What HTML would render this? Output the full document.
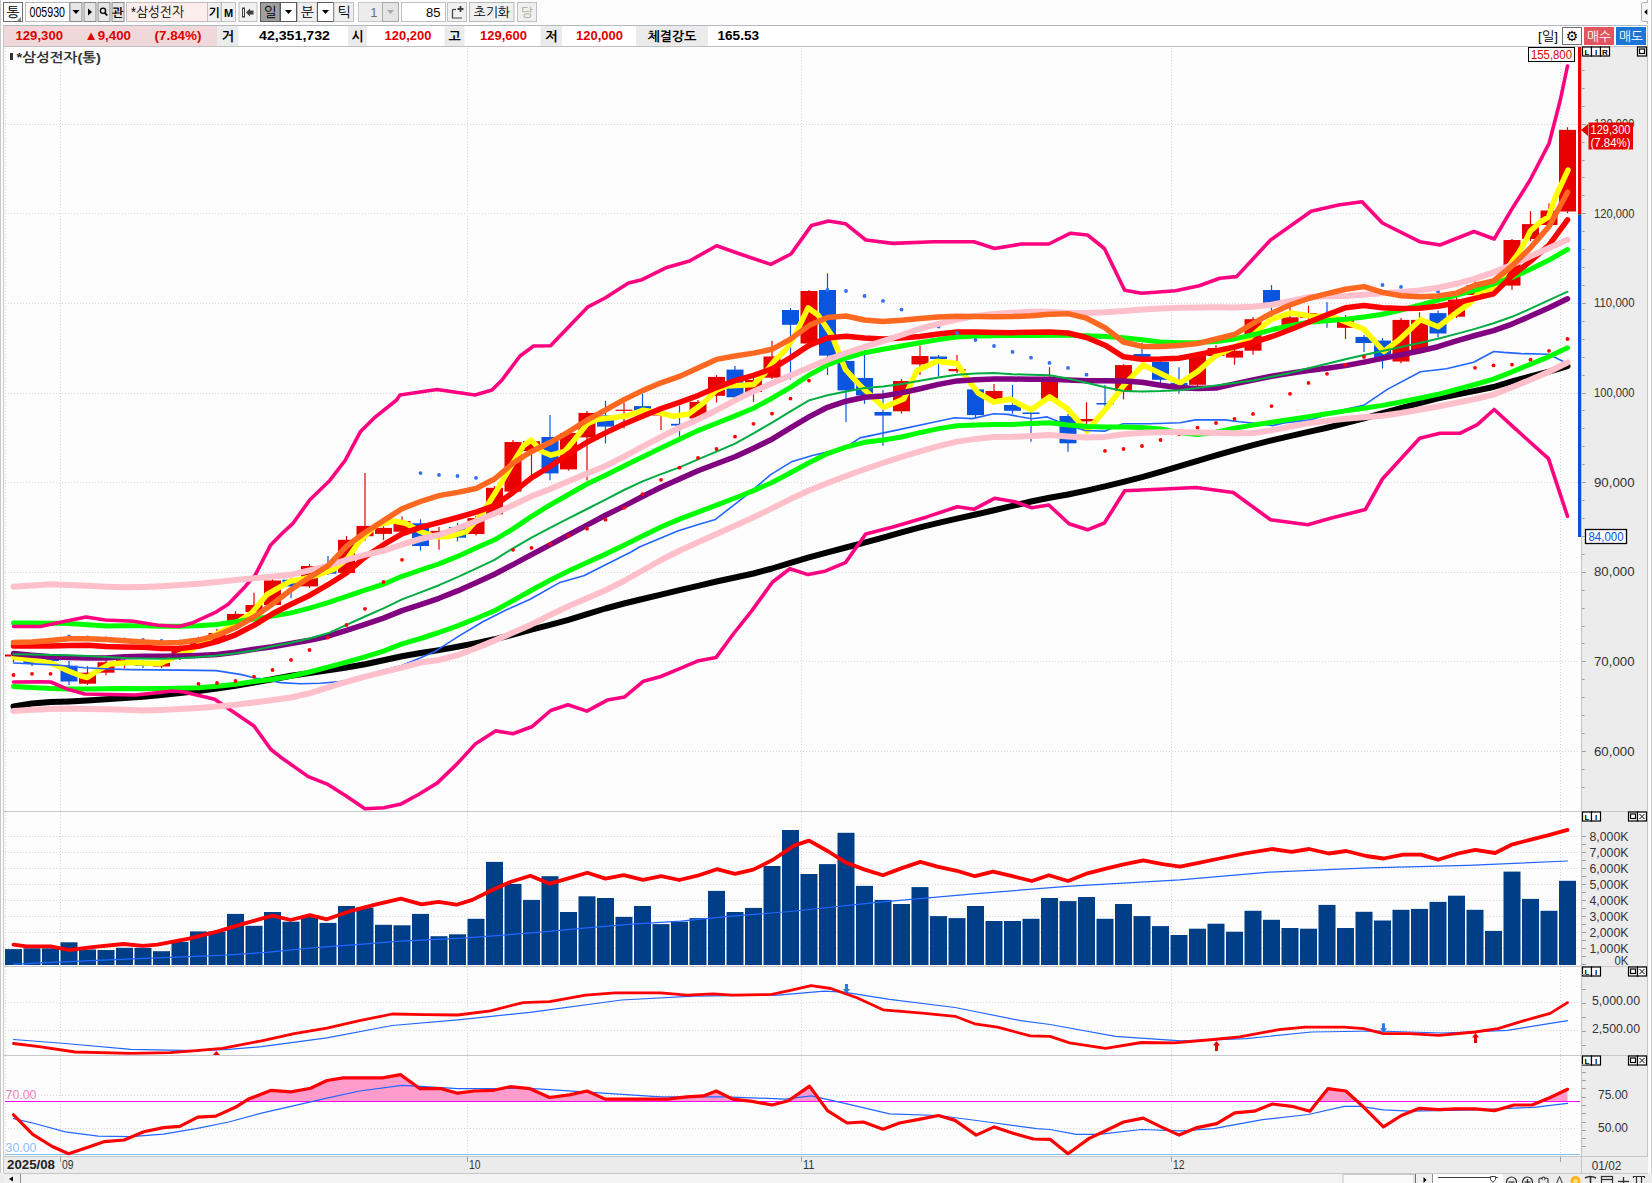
<!DOCTYPE html>
<html><head><meta charset="utf-8"><title>chart</title>
<style>html,body{margin:0;padding:0;background:#fcfcfc;overflow:hidden;width:1652px;height:1183px}svg{display:block}</style>
</head><body>
<svg width="1652" height="1183" viewBox="0 0 1652 1183" shape-rendering="auto"><rect x="0" y="0" width="1652" height="1183" fill="#fcfcfc" />
<rect x="0" y="0" width="1" height="1183" fill="#c8c8c8" />
<rect x="3" y="25" width="1" height="1149" fill="#c8c8c8" />
<rect x="3.5" y="2.5" width="19" height="19.0" fill="#ffffff" stroke="#6e6e6e" stroke-width="1" />
<text x="13.0" y="17" font-family="'Liberation Sans','NanumGothic','Noto Sans CJK KR',sans-serif" font-size="14" fill="#000" font-weight="normal" text-anchor="middle" >통</text>
<polygon points="21,17 21,21 17,21" fill="#808080"/>
<rect x="25.5" y="2.5" width="44" height="19" fill="#ffffff" stroke="#b8b8b8" stroke-width="1" />
<text x="29.5" y="17" font-family="'Liberation Sans','NanumGothic','Noto Sans CJK KR',sans-serif" font-size="14" fill="#000" font-weight="normal" text-anchor="start" textLength="35.5" lengthAdjust="spacingAndGlyphs" >005930</text>
<rect x="70.0" y="2.5" width="12.0" height="19.0" fill="#e6e6e6" stroke="#8a8a8a" stroke-width="1" />
<polygon points="72.5,10 79.5,10 76,14" fill="#000"/>
<rect x="84.0" y="2.5" width="12.0" height="19.0" fill="#e6e6e6" stroke="#8a8a8a" stroke-width="1" />
<polygon points="88,8.5 88,15.5 92,12" fill="#000"/>
<rect x="98.0" y="2.5" width="12.0" height="19.0" fill="#e6e6e6" stroke="#8a8a8a" stroke-width="1" />
<circle cx="103" cy="10.8" r="2.6" fill="none" stroke="#000" stroke-width="1.3"/><line x1="104.8" y1="12.8" x2="107.3" y2="15.5" stroke="#000" stroke-width="1.8"/>
<rect x="112.0" y="2.5" width="12.0" height="19.0" fill="#e6e6e6" stroke="#8a8a8a" stroke-width="1" />
<text x="118.0" y="17" font-family="'Liberation Sans','NanumGothic','Noto Sans CJK KR',sans-serif" font-size="12" fill="#000" font-weight="bold" text-anchor="middle" >관</text>
<rect x="126.5" y="2.5" width="81" height="19" fill="#fdeeee" stroke="#c0c0c0" stroke-width="1" />
<text x="131" y="17" font-family="'Liberation Sans','NanumGothic','Noto Sans CJK KR',sans-serif" font-size="14" fill="#000" font-weight="normal" text-anchor="start" textLength="53" lengthAdjust="spacingAndGlyphs" >*삼성전자</text>
<rect x="207.5" y="2.5" width="13.5" height="19.0" fill="#f0f0f0" stroke="#c0c0c0" stroke-width="1" />
<text x="214.25" y="17" font-family="'Liberation Sans','NanumGothic','Noto Sans CJK KR',sans-serif" font-size="12" fill="#000" font-weight="bold" text-anchor="middle" >기</text>
<rect x="221.5" y="2.5" width="14" height="19.0" fill="#f0f0f0" stroke="#c0c0c0" stroke-width="1" />
<text x="228.5" y="17" font-family="'Liberation Sans','NanumGothic','Noto Sans CJK KR',sans-serif" font-size="11" fill="#000" font-weight="bold" text-anchor="middle" >M</text>
<rect x="239.0" y="2.5" width="18.0" height="19.0" fill="#f0f0f0" stroke="#c0c0c0" stroke-width="1" />
<rect x="242.5" y="8" width="2" height="9" fill="none" stroke="#404040" stroke-width="1"/><polygon points="246,12.5 250,8.5 250,10.5 253.5,10.5 253.5,14.5 250,14.5 250,16.5" fill="#404040"/>
<rect x="260.5" y="2.5" width="19.5" height="19.0" fill="#a0a0a0" stroke="#5a5a5a" stroke-width="1" />
<text x="270.25" y="17" font-family="'Liberation Sans','NanumGothic','Noto Sans CJK KR',sans-serif" font-size="14" fill="#000" font-weight="normal" text-anchor="middle" >일</text>
<rect x="280.5" y="2.5" width="16" height="19.0" fill="#ffffff" stroke="#5a5a5a" stroke-width="1" />
<polygon points="285,10 292,10 288.5,14" fill="#000"/>
<rect x="297.5" y="2.5" width="19.5" height="19.0" fill="#f0f0f0" stroke="#c0c0c0" stroke-width="1" />
<text x="307.25" y="17" font-family="'Liberation Sans','NanumGothic','Noto Sans CJK KR',sans-serif" font-size="14" fill="#000" font-weight="normal" text-anchor="middle" >분</text>
<rect x="317.5" y="2.5" width="16" height="19.0" fill="#ffffff" stroke="#5a5a5a" stroke-width="1" />
<polygon points="322,10 329,10 325.5,14" fill="#000"/>
<rect x="334.0" y="2.5" width="19.5" height="19.0" fill="#f0f0f0" stroke="#c0c0c0" stroke-width="1" />
<text x="343.75" y="17" font-family="'Liberation Sans','NanumGothic','Noto Sans CJK KR',sans-serif" font-size="14" fill="#000" font-weight="normal" text-anchor="middle" >틱</text>
<rect x="358.5" y="2.5" width="24" height="19" fill="#ececec" stroke="#c8c8c8" stroke-width="1" />
<text x="377.5" y="17" font-family="'Liberation Sans','NanumGothic','Noto Sans CJK KR',sans-serif" font-size="13" fill="#707070" font-weight="normal" text-anchor="end" >1</text>
<rect x="382.5" y="2.5" width="16" height="19" fill="#e4e4e4" stroke="#a8a8a8" stroke-width="1" />
<polygon points="387,10 394,10 390.5,14" fill="#a8a8a8"/>
<rect x="401.5" y="2.5" width="44" height="19" fill="#ffffff" stroke="#c0c0c0" stroke-width="1" />
<text x="440.5" y="17" font-family="'Liberation Sans','NanumGothic','Noto Sans CJK KR',sans-serif" font-size="13" fill="#000" font-weight="normal" text-anchor="end" >85</text>
<rect x="447.5" y="2.5" width="19" height="19.0" fill="#f0f0f0" stroke="#c0c0c0" stroke-width="1" />
<path d="M452.5,9.5 V18 H462" fill="none" stroke="#404040" stroke-width="1.2"/><path d="M452.5,9.5 H456" fill="none" stroke="#404040" stroke-width="1.2"/><path d="M460.5,6 v6 M457.5,9 h6" stroke="#404040" stroke-width="1.8"/>
<rect x="469.5" y="2.5" width="44.5" height="19.0" fill="#f0f0f0" stroke="#b8b8b8" stroke-width="1" />
<text x="491.75" y="17" font-family="'Liberation Sans','NanumGothic','Noto Sans CJK KR',sans-serif" font-size="13" fill="#000" font-weight="normal" text-anchor="middle" >초기화</text>
<rect x="517.5" y="2.5" width="19" height="19.0" fill="#f0f0f0" stroke="#c0c0c0" stroke-width="1" />
<text x="527.0" y="17" font-family="'Liberation Sans','NanumGothic','Noto Sans CJK KR',sans-serif" font-size="13" fill="#b0a898" font-weight="normal" text-anchor="middle" >당</text>
<path d="M1647.5,0 V2.5 H1643.5 Q1641.5,2.5 1641.5,4.5 V19.5 Q1641.5,21.5 1643.5,21.5 H1647.5 V24" fill="#f2f4f6" stroke="#aab0b8" stroke-width="1"/>
<polygon points="1647.3,9 1647.3,15 1644.2,12" fill="#000"/>
<rect x="4" y="25" width="1644" height="22" fill="#ffffff" />
<line x1="4" y1="25.5" x2="1648" y2="25.5" stroke="#b4b8c0" stroke-width="1"/>
<line x1="4" y1="46.5" x2="1648" y2="46.5" stroke="#c0c0c0" stroke-width="1"/>
<rect x="4" y="26" width="213" height="20" fill="#f0d8da" />
<text x="15.5" y="40" font-family="'Liberation Sans','NanumGothic','Noto Sans CJK KR',sans-serif" font-size="13" fill="#e00000" font-weight="bold" text-anchor="start" textLength="47.5" lengthAdjust="spacingAndGlyphs" >129,300</text>
<text x="84.5" y="40" font-family="'Liberation Sans','NanumGothic','Noto Sans CJK KR',sans-serif" font-size="13" fill="#e00000" font-weight="bold" text-anchor="start" textLength="46.5" lengthAdjust="spacingAndGlyphs" >▲9,400</text>
<text x="154.5" y="40" font-family="'Liberation Sans','NanumGothic','Noto Sans CJK KR',sans-serif" font-size="13" fill="#e00000" font-weight="bold" text-anchor="start" textLength="47" lengthAdjust="spacingAndGlyphs" >(7.84%)</text>
<rect x="217" y="26" width="21.5" height="20" fill="#ebebeb" />
<text x="227.75" y="40.5" font-family="'Liberation Sans','NanumGothic','Noto Sans CJK KR',sans-serif" font-size="13" fill="#000" font-weight="bold" text-anchor="middle" >거</text>
<text x="330" y="40" font-family="'Liberation Sans','NanumGothic','Noto Sans CJK KR',sans-serif" font-size="13" fill="#000" font-weight="bold" text-anchor="end" textLength="71" lengthAdjust="spacingAndGlyphs" >42,351,732</text>
<rect x="348" y="26" width="19" height="20" fill="#ebebeb" />
<text x="357.5" y="40.5" font-family="'Liberation Sans','NanumGothic','Noto Sans CJK KR',sans-serif" font-size="13" fill="#000" font-weight="bold" text-anchor="middle" >시</text>
<text x="431.5" y="40" font-family="'Liberation Sans','NanumGothic','Noto Sans CJK KR',sans-serif" font-size="13" fill="#e00000" font-weight="bold" text-anchor="end" textLength="47" lengthAdjust="spacingAndGlyphs" >120,200</text>
<rect x="444.5" y="26" width="20.0" height="20" fill="#ebebeb" />
<text x="454.5" y="40.5" font-family="'Liberation Sans','NanumGothic','Noto Sans CJK KR',sans-serif" font-size="13" fill="#000" font-weight="bold" text-anchor="middle" >고</text>
<text x="527" y="40" font-family="'Liberation Sans','NanumGothic','Noto Sans CJK KR',sans-serif" font-size="13" fill="#e00000" font-weight="bold" text-anchor="end" textLength="47" lengthAdjust="spacingAndGlyphs" >129,600</text>
<rect x="540.5" y="26" width="21.5" height="20" fill="#ebebeb" />
<text x="551.25" y="40.5" font-family="'Liberation Sans','NanumGothic','Noto Sans CJK KR',sans-serif" font-size="13" fill="#000" font-weight="bold" text-anchor="middle" >저</text>
<text x="623" y="40" font-family="'Liberation Sans','NanumGothic','Noto Sans CJK KR',sans-serif" font-size="13" fill="#e00000" font-weight="bold" text-anchor="end" textLength="47" lengthAdjust="spacingAndGlyphs" >120,000</text>
<rect x="636" y="26" width="72" height="20" fill="#ebebeb" />
<text x="672.0" y="40.5" font-family="'Liberation Sans','NanumGothic','Noto Sans CJK KR',sans-serif" font-size="13" fill="#000" font-weight="bold" text-anchor="middle" >체결강도</text>
<text x="759" y="40" font-family="'Liberation Sans','NanumGothic','Noto Sans CJK KR',sans-serif" font-size="13" fill="#000" font-weight="bold" text-anchor="end" textLength="41.5" lengthAdjust="spacingAndGlyphs" >165.53</text>
<text x="1548" y="41" font-family="'Liberation Sans','NanumGothic','Noto Sans CJK KR',sans-serif" font-size="13" fill="#000" font-weight="normal" text-anchor="middle" textLength="20" lengthAdjust="spacingAndGlyphs" >[일]</text>
<rect x="1562.5" y="27.5" width="19" height="17" fill="#ffffff" stroke="#707070" stroke-width="1" />
<text x="1572" y="40.5" font-family="'DejaVu Sans',sans-serif" font-size="14" fill="#000" font-weight="normal" text-anchor="middle" >⚙</text>
<rect x="1584" y="27" width="30" height="18" fill="#e25560" />
<text x="1599" y="41" font-family="'Liberation Sans','NanumGothic','Noto Sans CJK KR',sans-serif" font-size="13" fill="#ffffff" font-weight="normal" text-anchor="middle" textLength="24" lengthAdjust="spacingAndGlyphs" >매수</text>
<rect x="1616" y="27" width="30" height="18" fill="#1c74d4" />
<text x="1631" y="41" font-family="'Liberation Sans','NanumGothic','Noto Sans CJK KR',sans-serif" font-size="13" fill="#ffffff" font-weight="normal" text-anchor="middle" textLength="24" lengthAdjust="spacingAndGlyphs" >매도</text>
<rect x="4" y="47" width="1577" height="1109" fill="#fdfdfd" />
<rect x="1581" y="47" width="67" height="1110" fill="#ececec" />
<line x1="1581.5" y1="47" x2="1581.5" y2="1157" stroke="#c4c4c4" stroke-width="1"/>
<line x1="1647.5" y1="25" x2="1647.5" y2="1174" stroke="#c4c4c4" stroke-width="1"/>
<rect x="1648" y="25" width="4" height="1150" fill="#fbfbfb" />
<line x1="1651.5" y1="0" x2="1651.5" y2="1183" stroke="#d0d0d0" stroke-width="1"/>
<line x1="4" y1="811.5" x2="1648" y2="811.5" stroke="#c8c8c8" stroke-width="1"/>
<line x1="4" y1="966.5" x2="1648" y2="966.5" stroke="#c8c8c8" stroke-width="1"/>
<line x1="4" y1="1055.5" x2="1648" y2="1055.5" stroke="#c8c8c8" stroke-width="1"/>
<line x1="4" y1="1156.5" x2="1648" y2="1156.5" stroke="#c8c8c8" stroke-width="1"/>
<line x1="5" y1="751.5" x2="1580" y2="751.5" stroke="#d8d8d8" stroke-width="1" stroke-dasharray="1,2"/>
<line x1="5" y1="661.5" x2="1580" y2="661.5" stroke="#d8d8d8" stroke-width="1" stroke-dasharray="1,2"/>
<line x1="5" y1="572.5" x2="1580" y2="572.5" stroke="#d8d8d8" stroke-width="1" stroke-dasharray="1,2"/>
<line x1="5" y1="482.5" x2="1580" y2="482.5" stroke="#d8d8d8" stroke-width="1" stroke-dasharray="1,2"/>
<line x1="5" y1="393.5" x2="1580" y2="393.5" stroke="#d8d8d8" stroke-width="1" stroke-dasharray="1,2"/>
<line x1="5" y1="303.5" x2="1580" y2="303.5" stroke="#d8d8d8" stroke-width="1" stroke-dasharray="1,2"/>
<line x1="5" y1="213.5" x2="1580" y2="213.5" stroke="#d8d8d8" stroke-width="1" stroke-dasharray="1,2"/>
<line x1="5" y1="124.5" x2="1580" y2="124.5" stroke="#d8d8d8" stroke-width="1" stroke-dasharray="1,2"/>
<line x1="5.5" y1="48" x2="5.5" y2="811" stroke="#d8d8d8" stroke-width="1" stroke-dasharray="1,2"/>
<line x1="5.5" y1="812" x2="5.5" y2="966" stroke="#d8d8d8" stroke-width="1" stroke-dasharray="1,2"/>
<line x1="5.5" y1="967" x2="5.5" y2="1055" stroke="#d8d8d8" stroke-width="1" stroke-dasharray="1,2"/>
<line x1="5.5" y1="1056" x2="5.5" y2="1156" stroke="#d8d8d8" stroke-width="1" stroke-dasharray="1,2"/>
<line x1="60.5" y1="48" x2="60.5" y2="811" stroke="#d8d8d8" stroke-width="1" stroke-dasharray="1,2"/>
<line x1="60.5" y1="812" x2="60.5" y2="966" stroke="#d8d8d8" stroke-width="1" stroke-dasharray="1,2"/>
<line x1="60.5" y1="967" x2="60.5" y2="1055" stroke="#d8d8d8" stroke-width="1" stroke-dasharray="1,2"/>
<line x1="60.5" y1="1056" x2="60.5" y2="1156" stroke="#d8d8d8" stroke-width="1" stroke-dasharray="1,2"/>
<line x1="467.5" y1="48" x2="467.5" y2="811" stroke="#d8d8d8" stroke-width="1" stroke-dasharray="1,2"/>
<line x1="467.5" y1="812" x2="467.5" y2="966" stroke="#d8d8d8" stroke-width="1" stroke-dasharray="1,2"/>
<line x1="467.5" y1="967" x2="467.5" y2="1055" stroke="#d8d8d8" stroke-width="1" stroke-dasharray="1,2"/>
<line x1="467.5" y1="1056" x2="467.5" y2="1156" stroke="#d8d8d8" stroke-width="1" stroke-dasharray="1,2"/>
<line x1="801.5" y1="48" x2="801.5" y2="811" stroke="#d8d8d8" stroke-width="1" stroke-dasharray="1,2"/>
<line x1="801.5" y1="812" x2="801.5" y2="966" stroke="#d8d8d8" stroke-width="1" stroke-dasharray="1,2"/>
<line x1="801.5" y1="967" x2="801.5" y2="1055" stroke="#d8d8d8" stroke-width="1" stroke-dasharray="1,2"/>
<line x1="801.5" y1="1056" x2="801.5" y2="1156" stroke="#d8d8d8" stroke-width="1" stroke-dasharray="1,2"/>
<line x1="1171.5" y1="48" x2="1171.5" y2="811" stroke="#d8d8d8" stroke-width="1" stroke-dasharray="1,2"/>
<line x1="1171.5" y1="812" x2="1171.5" y2="966" stroke="#d8d8d8" stroke-width="1" stroke-dasharray="1,2"/>
<line x1="1171.5" y1="967" x2="1171.5" y2="1055" stroke="#d8d8d8" stroke-width="1" stroke-dasharray="1,2"/>
<line x1="1171.5" y1="1056" x2="1171.5" y2="1156" stroke="#d8d8d8" stroke-width="1" stroke-dasharray="1,2"/>
<line x1="1560.5" y1="48" x2="1560.5" y2="811" stroke="#d8d8d8" stroke-width="1" stroke-dasharray="1,2"/>
<line x1="1560.5" y1="812" x2="1560.5" y2="966" stroke="#d8d8d8" stroke-width="1" stroke-dasharray="1,2"/>
<line x1="1560.5" y1="967" x2="1560.5" y2="1055" stroke="#d8d8d8" stroke-width="1" stroke-dasharray="1,2"/>
<line x1="1560.5" y1="1056" x2="1560.5" y2="1156" stroke="#d8d8d8" stroke-width="1" stroke-dasharray="1,2"/>
<line x1="5" y1="948.5" x2="1580" y2="948.5" stroke="#d8d8d8" stroke-width="1" stroke-dasharray="1,2"/>
<line x1="5" y1="932.5" x2="1580" y2="932.5" stroke="#d8d8d8" stroke-width="1" stroke-dasharray="1,2"/>
<line x1="5" y1="916.5" x2="1580" y2="916.5" stroke="#d8d8d8" stroke-width="1" stroke-dasharray="1,2"/>
<line x1="5" y1="900.5" x2="1580" y2="900.5" stroke="#d8d8d8" stroke-width="1" stroke-dasharray="1,2"/>
<line x1="5" y1="884.5" x2="1580" y2="884.5" stroke="#d8d8d8" stroke-width="1" stroke-dasharray="1,2"/>
<line x1="5" y1="868.5" x2="1580" y2="868.5" stroke="#d8d8d8" stroke-width="1" stroke-dasharray="1,2"/>
<line x1="5" y1="852.5" x2="1580" y2="852.5" stroke="#d8d8d8" stroke-width="1" stroke-dasharray="1,2"/>
<line x1="5" y1="836.5" x2="1580" y2="836.5" stroke="#d8d8d8" stroke-width="1" stroke-dasharray="1,2"/>
<line x1="5" y1="1002.5" x2="1580" y2="1002.5" stroke="#d8d8d8" stroke-width="1" stroke-dasharray="1,2"/>
<line x1="5" y1="1030.5" x2="1580" y2="1030.5" stroke="#d8d8d8" stroke-width="1" stroke-dasharray="1,2"/>
<line x1="5" y1="1095.5" x2="1580" y2="1095.5" stroke="#d8d8d8" stroke-width="1" stroke-dasharray="1,2"/>
<line x1="5" y1="1128.5" x2="1580" y2="1128.5" stroke="#d8d8d8" stroke-width="1" stroke-dasharray="1,2"/>
<g>
<line x1="13.5" y1="654.5" x2="13.5" y2="662.0" stroke="#e80000" stroke-width="1.2"/>
<rect x="5.0" y="654.5" width="17" height="2.0" fill="#e80000" />
<line x1="32.0" y1="658.0" x2="32.0" y2="666.0" stroke="#0a55e0" stroke-width="1.2"/>
<rect x="23.5" y="659.0" width="17" height="4.0" fill="#0a55e0" />
<line x1="50.5" y1="656.0" x2="50.5" y2="662.0" stroke="#0a55e0" stroke-width="1.2"/>
<rect x="42.0" y="658.0" width="17" height="3.0" fill="#0a55e0" />
<line x1="69.0" y1="661.0" x2="69.0" y2="685.0" stroke="#0a55e0" stroke-width="1.2"/>
<rect x="60.5" y="665.7" width="17" height="15.8" fill="#0a55e0" />
<line x1="87.5" y1="666.2" x2="87.5" y2="685.0" stroke="#e80000" stroke-width="1.2"/>
<rect x="79.0" y="672.7" width="17" height="11.0" fill="#e80000" />
<line x1="106.0" y1="660.0" x2="106.0" y2="675.3" stroke="#e80000" stroke-width="1.2"/>
<rect x="97.5" y="662.2" width="17" height="10.5" fill="#e80000" />
<line x1="124.5" y1="658.0" x2="124.5" y2="668.3" stroke="#e80000" stroke-width="1.2"/>
<rect x="116.0" y="660.0" width="17" height="4.0" fill="#e80000" />
<line x1="143.0" y1="660.0" x2="143.0" y2="668.0" stroke="#0a55e0" stroke-width="1.2"/>
<rect x="134.5" y="662.0" width="17" height="3.7" fill="#0a55e0" />
<line x1="161.5" y1="660.0" x2="161.5" y2="668.3" stroke="#e80000" stroke-width="1.2"/>
<rect x="153.0" y="663.0" width="17" height="3.5" fill="#e80000" />
<line x1="180.0" y1="641.5" x2="180.0" y2="660.0" stroke="#e80000" stroke-width="1.2"/>
<rect x="171.5" y="650.0" width="17" height="6.0" fill="#e80000" />
<line x1="198.5" y1="636.7" x2="198.5" y2="649.0" stroke="#e80000" stroke-width="1.2"/>
<rect x="190.0" y="640.0" width="17" height="7.0" fill="#e80000" />
<line x1="217.0" y1="628.8" x2="217.0" y2="641.0" stroke="#e80000" stroke-width="1.2"/>
<rect x="208.5" y="633.0" width="17" height="7.0" fill="#e80000" />
<line x1="235.5" y1="611.2" x2="235.5" y2="623.0" stroke="#e80000" stroke-width="1.2"/>
<rect x="227.0" y="613.9" width="17" height="7.9" fill="#e80000" />
<line x1="254.0" y1="592.8" x2="254.0" y2="613.0" stroke="#e80000" stroke-width="1.2"/>
<rect x="245.5" y="605.0" width="17" height="7.0" fill="#e80000" />
<line x1="272.5" y1="578.0" x2="272.5" y2="606.0" stroke="#e80000" stroke-width="1.2"/>
<rect x="264.0" y="580.5" width="17" height="24.5" fill="#e80000" />
<line x1="291.0" y1="578.0" x2="291.0" y2="598.3" stroke="#0a55e0" stroke-width="1.2"/>
<rect x="282.5" y="579.7" width="17" height="6.7" fill="#0a55e0" />
<line x1="309.5" y1="564.0" x2="309.5" y2="588.0" stroke="#e80000" stroke-width="1.2"/>
<rect x="301.0" y="566.0" width="17" height="20.4" fill="#e80000" />
<line x1="328.0" y1="556.0" x2="328.0" y2="575.0" stroke="#0a55e0" stroke-width="1.2"/>
<rect x="319.5" y="565.3" width="17" height="8.4" fill="#0a55e0" />
<line x1="346.5" y1="535.9" x2="346.5" y2="574.0" stroke="#e80000" stroke-width="1.2"/>
<rect x="338.0" y="539.8" width="17" height="33.1" fill="#e80000" />
<line x1="365.0" y1="473.1" x2="365.0" y2="540.7" stroke="#e80000" stroke-width="1.2"/>
<rect x="356.5" y="525.9" width="17" height="10.3" fill="#e80000" />
<line x1="383.5" y1="526.0" x2="383.5" y2="540.0" stroke="#e80000" stroke-width="1.2"/>
<rect x="375.0" y="527.9" width="17" height="6.0" fill="#e80000" />
<line x1="402.0" y1="516.2" x2="402.0" y2="533.0" stroke="#e80000" stroke-width="1.2"/>
<rect x="393.5" y="521.0" width="17" height="10.7" fill="#e80000" />
<line x1="420.5" y1="519.3" x2="420.5" y2="550.6" stroke="#0a55e0" stroke-width="1.2"/>
<rect x="412.0" y="523.3" width="17" height="22.7" fill="#0a55e0" />
<line x1="439.0" y1="527.0" x2="439.0" y2="549.8" stroke="#e80000" stroke-width="1.2"/>
<rect x="430.5" y="530.9" width="17" height="2.3" fill="#e80000" />
<line x1="457.5" y1="522.9" x2="457.5" y2="541.5" stroke="#0a55e0" stroke-width="1.2"/>
<rect x="449.0" y="527.0" width="17" height="10.7" fill="#0a55e0" />
<line x1="476.0" y1="516.0" x2="476.0" y2="535.4" stroke="#e80000" stroke-width="1.2"/>
<rect x="467.5" y="518.0" width="17" height="16.0" fill="#e80000" />
<line x1="494.5" y1="486.0" x2="494.5" y2="516.0" stroke="#e80000" stroke-width="1.2"/>
<rect x="486.0" y="487.8" width="17" height="26.5" fill="#e80000" />
<line x1="513.0" y1="440.0" x2="513.0" y2="493.0" stroke="#e80000" stroke-width="1.2"/>
<rect x="504.5" y="442.0" width="17" height="49.6" fill="#e80000" />
<line x1="531.5" y1="439.0" x2="531.5" y2="480.2" stroke="#e80000" stroke-width="1.2"/>
<rect x="523.0" y="441.2" width="17" height="9.8" fill="#e80000" />
<line x1="550.0" y1="415.1" x2="550.0" y2="480.2" stroke="#0a55e0" stroke-width="1.2"/>
<rect x="541.5" y="437.0" width="17" height="36.4" fill="#0a55e0" />
<line x1="568.5" y1="431.0" x2="568.5" y2="470.7" stroke="#e80000" stroke-width="1.2"/>
<rect x="560.0" y="433.0" width="17" height="36.4" fill="#e80000" />
<line x1="587.0" y1="411.0" x2="587.0" y2="480.6" stroke="#e80000" stroke-width="1.2"/>
<rect x="578.5" y="412.9" width="17" height="24.5" fill="#e80000" />
<line x1="605.5" y1="400.8" x2="605.5" y2="443.5" stroke="#0a55e0" stroke-width="1.2"/>
<rect x="597.0" y="415.5" width="17" height="11.1" fill="#0a55e0" />
<line x1="624.0" y1="402.6" x2="624.0" y2="428.4" stroke="#e80000" stroke-width="1.2"/>
<rect x="615.5" y="409.7" width="17" height="1.2" fill="#e80000" />
<line x1="642.5" y1="393.9" x2="642.5" y2="413.0" stroke="#0a55e0" stroke-width="1.2"/>
<rect x="634.0" y="406.1" width="17" height="5.6" fill="#0a55e0" />
<line x1="661.0" y1="411.0" x2="661.0" y2="429.9" stroke="#e80000" stroke-width="1.2"/>
<rect x="652.5" y="413.5" width="17" height="2.0" fill="#e80000" />
<line x1="679.5" y1="405.7" x2="679.5" y2="436.7" stroke="#0a55e0" stroke-width="1.2"/>
<rect x="671.0" y="423.8" width="17" height="1.8" fill="#0a55e0" />
<line x1="698.0" y1="400.0" x2="698.0" y2="420.0" stroke="#e80000" stroke-width="1.2"/>
<rect x="689.5" y="401.9" width="17" height="16.6" fill="#e80000" />
<line x1="716.5" y1="375.1" x2="716.5" y2="402.6" stroke="#e80000" stroke-width="1.2"/>
<rect x="708.0" y="376.9" width="17" height="18.9" fill="#e80000" />
<line x1="735.0" y1="366.0" x2="735.0" y2="399.0" stroke="#0a55e0" stroke-width="1.2"/>
<rect x="726.5" y="369.6" width="17" height="27.7" fill="#0a55e0" />
<line x1="753.5" y1="378.0" x2="753.5" y2="401.9" stroke="#e80000" stroke-width="1.2"/>
<rect x="745.0" y="380.0" width="17" height="12.0" fill="#e80000" />
<line x1="772.0" y1="340.9" x2="772.0" y2="379.0" stroke="#e80000" stroke-width="1.2"/>
<rect x="763.5" y="356.5" width="17" height="21.2" fill="#e80000" />
<line x1="790.5" y1="308.0" x2="790.5" y2="379.6" stroke="#0a55e0" stroke-width="1.2"/>
<rect x="782.0" y="310.0" width="17" height="14.8" fill="#0a55e0" />
<line x1="809.0" y1="290.0" x2="809.0" y2="345.0" stroke="#e80000" stroke-width="1.2"/>
<rect x="800.5" y="291.0" width="17" height="52.5" fill="#e80000" />
<line x1="827.5" y1="273.3" x2="827.5" y2="375.0" stroke="#0a55e0" stroke-width="1.2"/>
<rect x="819.0" y="290.0" width="17" height="65.6" fill="#0a55e0" />
<line x1="846.0" y1="359.0" x2="846.0" y2="422.0" stroke="#0a55e0" stroke-width="1.2"/>
<rect x="837.5" y="361.0" width="17" height="29.4" fill="#0a55e0" />
<line x1="864.5" y1="350.5" x2="864.5" y2="403.8" stroke="#0a55e0" stroke-width="1.2"/>
<rect x="856.0" y="378.0" width="17" height="17.4" fill="#0a55e0" />
<line x1="883.0" y1="390.0" x2="883.0" y2="445.8" stroke="#0a55e0" stroke-width="1.2"/>
<rect x="874.5" y="412.0" width="17" height="3.6" fill="#0a55e0" />
<line x1="901.5" y1="379.0" x2="901.5" y2="413.6" stroke="#e80000" stroke-width="1.2"/>
<rect x="893.0" y="381.0" width="17" height="30.3" fill="#e80000" />
<line x1="920.0" y1="345.5" x2="920.0" y2="375.0" stroke="#e80000" stroke-width="1.2"/>
<rect x="911.5" y="356.0" width="17" height="8.4" fill="#e80000" />
<line x1="938.5" y1="355.0" x2="938.5" y2="376.5" stroke="#0a55e0" stroke-width="1.2"/>
<rect x="930.0" y="356.5" width="17" height="2.5" fill="#0a55e0" />
<line x1="957.0" y1="355.0" x2="957.0" y2="373.0" stroke="#e80000" stroke-width="1.2"/>
<rect x="948.5" y="369.0" width="17" height="2.2" fill="#e80000" />
<line x1="975.5" y1="387.0" x2="975.5" y2="417.4" stroke="#0a55e0" stroke-width="1.2"/>
<rect x="967.0" y="389.4" width="17" height="25.7" fill="#0a55e0" />
<line x1="994.0" y1="384.1" x2="994.0" y2="401.0" stroke="#e80000" stroke-width="1.2"/>
<rect x="985.5" y="391.0" width="17" height="8.2" fill="#e80000" />
<line x1="1012.5" y1="385.0" x2="1012.5" y2="413.8" stroke="#0a55e0" stroke-width="1.2"/>
<rect x="1004.0" y="405.0" width="17" height="5.8" fill="#0a55e0" />
<line x1="1031.0" y1="412.3" x2="1031.0" y2="441.8" stroke="#0a55e0" stroke-width="1.2"/>
<rect x="1022.5" y="412.5" width="17" height="1.5" fill="#0a55e0" />
<line x1="1049.5" y1="367.2" x2="1049.5" y2="400.0" stroke="#e80000" stroke-width="1.2"/>
<rect x="1041.0" y="380.5" width="17" height="18.2" fill="#e80000" />
<line x1="1068.0" y1="414.0" x2="1068.0" y2="451.7" stroke="#0a55e0" stroke-width="1.2"/>
<rect x="1059.5" y="416.0" width="17" height="27.3" fill="#0a55e0" />
<line x1="1086.5" y1="402.2" x2="1086.5" y2="424.4" stroke="#e80000" stroke-width="1.2"/>
<rect x="1078.0" y="419.0" width="17" height="2.4" fill="#e80000" />
<line x1="1105.0" y1="385.0" x2="1105.0" y2="406.3" stroke="#0a55e0" stroke-width="1.2"/>
<rect x="1096.5" y="403.0" width="17" height="1.5" fill="#0a55e0" />
<line x1="1123.5" y1="364.2" x2="1123.5" y2="399.4" stroke="#e80000" stroke-width="1.2"/>
<rect x="1115.0" y="365.1" width="17" height="25.7" fill="#e80000" />
<line x1="1142.0" y1="342.7" x2="1142.0" y2="359.0" stroke="#0a55e0" stroke-width="1.2"/>
<rect x="1133.5" y="354.0" width="17" height="3.0" fill="#0a55e0" />
<line x1="1160.5" y1="360.0" x2="1160.5" y2="388.0" stroke="#0a55e0" stroke-width="1.2"/>
<rect x="1152.0" y="362.0" width="17" height="17.8" fill="#0a55e0" />
<line x1="1179.0" y1="367.2" x2="1179.0" y2="393.8" stroke="#0a55e0" stroke-width="1.2"/>
<rect x="1170.5" y="382.8" width="17" height="3.0" fill="#0a55e0" />
<line x1="1197.5" y1="354.0" x2="1197.5" y2="386.0" stroke="#e80000" stroke-width="1.2"/>
<rect x="1189.0" y="355.6" width="17" height="29.2" fill="#e80000" />
<line x1="1216.0" y1="344.9" x2="1216.0" y2="358.0" stroke="#e80000" stroke-width="1.2"/>
<rect x="1207.5" y="348.0" width="17" height="8.0" fill="#e80000" />
<line x1="1234.5" y1="346.0" x2="1234.5" y2="364.7" stroke="#e80000" stroke-width="1.2"/>
<rect x="1226.0" y="350.7" width="17" height="6.9" fill="#e80000" />
<line x1="1253.0" y1="317.0" x2="1253.0" y2="354.7" stroke="#e80000" stroke-width="1.2"/>
<rect x="1244.5" y="319.2" width="17" height="31.5" fill="#e80000" />
<line x1="1271.5" y1="285.1" x2="1271.5" y2="321.7" stroke="#0a55e0" stroke-width="1.2"/>
<rect x="1263.0" y="290.0" width="17" height="15.8" fill="#0a55e0" />
<line x1="1290.0" y1="298.0" x2="1290.0" y2="326.0" stroke="#e80000" stroke-width="1.2"/>
<rect x="1281.5" y="317.3" width="17" height="8.2" fill="#e80000" />
<line x1="1308.5" y1="305.8" x2="1308.5" y2="324.7" stroke="#e80000" stroke-width="1.2"/>
<rect x="1300.0" y="313.0" width="17" height="5.0" fill="#e80000" />
<line x1="1327.0" y1="302.0" x2="1327.0" y2="327.8" stroke="#0a55e0" stroke-width="1.2"/>
<rect x="1318.5" y="315.0" width="17" height="7.0" fill="#0a55e0" />
<line x1="1345.5" y1="315.0" x2="1345.5" y2="339.1" stroke="#e80000" stroke-width="1.2"/>
<rect x="1337.0" y="317.2" width="17" height="10.6" fill="#e80000" />
<line x1="1364.0" y1="335.0" x2="1364.0" y2="352.0" stroke="#0a55e0" stroke-width="1.2"/>
<rect x="1355.5" y="336.9" width="17" height="6.1" fill="#0a55e0" />
<line x1="1382.5" y1="338.0" x2="1382.5" y2="368.6" stroke="#0a55e0" stroke-width="1.2"/>
<rect x="1374.0" y="340.6" width="17" height="18.2" fill="#0a55e0" />
<line x1="1401.0" y1="318.0" x2="1401.0" y2="363.3" stroke="#e80000" stroke-width="1.2"/>
<rect x="1392.5" y="319.9" width="17" height="41.6" fill="#e80000" />
<line x1="1419.5" y1="312.3" x2="1419.5" y2="352.0" stroke="#e80000" stroke-width="1.2"/>
<rect x="1411.0" y="319.9" width="17" height="30.6" fill="#e80000" />
<line x1="1438.0" y1="310.5" x2="1438.0" y2="337.6" stroke="#0a55e0" stroke-width="1.2"/>
<rect x="1429.5" y="313.1" width="17" height="20.4" fill="#0a55e0" />
<line x1="1456.5" y1="297.0" x2="1456.5" y2="318.0" stroke="#e80000" stroke-width="1.2"/>
<rect x="1448.0" y="299.5" width="17" height="17.2" fill="#e80000" />
<line x1="1475.0" y1="281.0" x2="1475.0" y2="297.0" stroke="#e80000" stroke-width="1.2"/>
<rect x="1466.5" y="285.0" width="17" height="10.0" fill="#e80000" />
<line x1="1493.5" y1="280.0" x2="1493.5" y2="290.0" stroke="#0a55e0" stroke-width="1.2"/>
<rect x="1485.0" y="282.0" width="17" height="4.0" fill="#0a55e0" />
<line x1="1512.0" y1="239.0" x2="1512.0" y2="289.7" stroke="#e80000" stroke-width="1.2"/>
<rect x="1503.5" y="240.0" width="17" height="45.6" fill="#e80000" />
<line x1="1530.5" y1="211.2" x2="1530.5" y2="241.0" stroke="#e80000" stroke-width="1.2"/>
<rect x="1522.0" y="224.1" width="17" height="14.9" fill="#e80000" />
<line x1="1549.0" y1="203.4" x2="1549.0" y2="227.0" stroke="#e80000" stroke-width="1.2"/>
<rect x="1540.5" y="210.5" width="17" height="14.5" fill="#e80000" />
<line x1="1567.5" y1="127.2" x2="1567.5" y2="213.3" stroke="#e80000" stroke-width="1.2"/>
<rect x="1559.0" y="129.9" width="17" height="81.6" fill="#e80000" />
</g>
<polyline points="13.5,657.1 33.9,660.1 50.8,663.0 67.8,670.7 80.5,675.8 87.3,677.5 97.5,670.7 110.2,663.9 130.0,662.5 160.4,663.5 175.7,656.4 190.9,650.3 211.2,637.1 231.5,626.0 251.8,612.8 267.0,594.5 290.0,581.3 299.5,579.7 316.4,575.4 333.4,569.5 346.9,559.3 358.8,542.4 375.8,525.4 393.6,521.1 405.7,523.3 420.8,531.7 435.9,537.0 451.0,536.2 466.2,531.7 481.3,515.0 496.5,490.8 511.6,465.1 523.7,445.4 531.3,440.1 541.9,451.5 550.9,455.2 564.6,451.5 575.1,439.0 587.2,423.8 597.8,419.3 613.0,417.8 628.1,415.5 643.2,410.2 658.4,412.5 673.5,416.3 688.6,414.0 703.8,402.6 715.9,390.5 726.5,386.0 741.6,385.2 753.7,384.5 764.3,373.9 774.9,360.3 787.0,348.2 796.1,333.0 808.0,307.8 818.3,315.3 831.9,335.6 845.4,369.5 860.0,385.4 883.7,407.3 903.8,399.0 916.8,370.7 936.9,361.2 957.0,363.6 966.5,377.8 978.3,393.1 993.7,402.0 1010.3,399.0 1020.0,404.5 1031.2,409.8 1049.6,396.8 1067.3,408.6 1086.9,431.1 1105.2,409.8 1124.1,385.0 1143.1,364.9 1162.0,374.3 1180.0,383.0 1197.8,371.4 1215.5,356.0 1245.1,341.8 1270.5,319.7 1290.8,312.9 1311.2,316.3 1331.5,316.3 1340.0,319.6 1363.7,329.1 1383.8,351.5 1399.2,339.7 1420.5,319.6 1438.2,326.7 1458.3,311.3 1470.2,303.0 1480.0,290.9 1494.2,289.7 1512.2,261.4 1518.3,253.3 1525.4,241.1 1530.4,231.0 1540.6,221.9 1548.7,216.8 1554.8,198.5 1560.9,185.4 1568.0,170.1" fill="none" stroke="#ffff00" stroke-width="5.5" stroke-linejoin="round" stroke-linecap="round" />
<polyline points="13.5,706.5 32.0,703.5 50.5,702.1 69.0,701.4 87.5,700.4 106.0,699.2 124.5,697.9 143.0,696.7 161.5,695.0 180.0,693.1 198.5,691.0 217.0,688.5 235.5,685.7 254.0,682.6 272.5,679.2 291.0,675.8 309.5,673.1 328.0,670.3 346.5,667.5 365.0,664.3 383.5,660.3 402.0,656.3 420.5,653.0 439.0,650.1 457.5,646.8 476.0,643.1 494.5,639.3 513.0,634.5 531.5,629.6 550.0,624.9 568.5,619.8 587.0,614.2 605.5,608.5 624.0,603.5 642.5,599.0 661.0,594.6 679.5,590.2 698.0,585.8 716.5,581.5 735.0,577.5 753.5,573.5 772.0,568.5 790.5,562.8 809.0,557.4 827.5,552.4 846.0,547.5 864.5,542.7 883.0,537.6 901.5,532.4 920.0,527.4 938.5,522.8 957.0,518.6 975.5,514.5 994.0,510.3 1012.5,505.9 1031.0,501.5 1049.5,497.7 1068.0,494.5 1086.5,490.6 1105.0,486.4 1123.5,481.9 1142.0,477.1 1160.5,471.8 1179.0,466.4 1197.5,460.9 1216.0,455.4 1234.5,450.1 1253.0,445.2 1271.5,440.4 1290.0,436.1 1308.5,431.9 1327.0,427.7 1345.5,423.2 1364.0,418.3 1382.5,413.2 1401.0,408.1 1419.5,403.1 1438.0,398.4 1456.5,394.5 1475.0,390.9 1493.5,387.0 1512.0,381.4 1530.5,376.5 1549.0,371.6 1567.5,366.2" fill="none" stroke="#000000" stroke-width="6" stroke-linejoin="round" stroke-linecap="round" />
<polyline points="13.5,663.0 33.9,663.9 59.3,665.2 84.7,667.7 110.2,669.0 130.0,669.6 180.7,670.1 216.2,670.6 236.9,673.9 241.6,674.6 256.2,678.3 261.9,678.7 280.4,682.6 300.3,683.7 320.6,683.3 351.0,680.6 381.5,670.8 401.7,665.6 420.0,658.1 435.5,651.2 459.2,635.9 482.8,621.7 506.5,609.8 530.2,599.2 560.0,582.4 583.7,575.7 631.0,552.0 640.0,546.7 678.3,530.8 700.0,524.1 715.4,519.4 747.3,494.6 771.0,474.4 792.3,461.4 812.4,455.5 830.2,451.4 847.9,446.0 860.0,437.9 895.5,430.4 931.0,422.7 954.7,417.8 972.4,418.6 993.7,413.8 1007.9,414.4 1020.0,416.8 1031.8,418.7 1047.2,416.9 1067.3,425.2 1085.1,430.5 1105.2,431.1 1123.0,423.8 1150.2,423.8 1180.0,422.8 1195.4,419.9 1225.0,419.9 1239.2,421.7 1256.9,423.5 1272.3,425.6 1284.1,422.9 1310.2,419.9 1340.0,410.5 1363.7,405.4 1387.3,389.4 1420.5,371.7 1446.5,368.7 1473.7,362.2 1493.8,351.5 1503.7,352.4 1521.4,353.6 1548.6,354.2 1562.8,361.3 1567.5,363.0" fill="none" stroke="#2266ff" stroke-width="1.6" stroke-linejoin="round" stroke-linecap="round" />
<polyline points="13.5,686.4 32.0,687.5 50.5,688.4 69.0,689.0 87.5,689.1 106.0,688.7 124.5,688.5 143.0,688.8 161.5,688.6 180.0,688.3 198.5,687.7 217.0,686.3 235.5,684.2 254.0,681.6 272.5,679.3 291.0,676.3 309.5,672.0 328.0,667.2 346.5,662.1 365.0,656.9 383.5,651.2 402.0,643.9 420.5,638.5 439.0,632.5 457.5,625.8 476.0,618.5 494.5,610.8 513.0,600.6 531.5,590.2 550.0,580.2 568.5,571.0 587.0,562.5 605.5,554.1 624.0,545.3 642.5,536.1 661.0,527.0 679.5,519.1 698.0,512.1 716.5,505.2 735.0,498.0 753.5,490.6 772.0,482.5 790.5,472.7 809.0,462.7 827.5,453.6 846.0,447.1 864.5,442.3 883.0,440.0 901.5,437.0 920.0,432.6 938.5,428.6 957.0,425.8 975.5,425.0 994.0,424.5 1012.5,424.4 1031.0,423.6 1049.5,422.7 1068.0,425.1 1086.5,426.6 1105.0,427.0 1123.5,427.0 1142.0,427.4 1160.5,429.0 1179.0,432.5 1197.5,434.4 1216.0,432.3 1234.5,428.2 1253.0,425.1 1271.5,422.2 1290.0,419.4 1308.5,416.6 1327.0,413.7 1345.5,410.9 1364.0,408.2 1382.5,405.4 1401.0,402.0 1419.5,398.3 1438.0,394.3 1456.5,389.5 1475.0,384.5 1493.5,379.2 1512.0,371.9 1530.5,364.2 1549.0,356.6 1567.5,347.8" fill="none" stroke="#00ff00" stroke-width="5" stroke-linejoin="round" stroke-linecap="round" />
<polyline points="13.5,622.9 32.0,623.1 50.5,623.3 69.0,623.6 87.5,624.8 106.0,626.0 124.5,625.7 143.0,625.8 161.5,626.2 180.0,626.2 198.5,625.7 217.0,624.4 235.5,621.8 254.0,619.0 272.5,616.1 291.0,612.9 309.5,608.2 328.0,602.7 346.5,596.4 365.0,590.1 383.5,584.2 402.0,576.3 420.5,570.0 439.0,563.9 457.5,556.4 476.0,547.9 494.5,539.8 513.0,528.9 531.5,516.4 550.0,505.0 568.5,494.5 587.0,484.0 605.5,475.2 624.0,466.0 642.5,456.9 661.0,448.1 679.5,439.3 698.0,430.6 716.5,423.2 735.0,415.9 753.5,408.2 772.0,398.2 790.5,387.4 809.0,375.1 827.5,364.9 846.0,358.0 864.5,352.7 883.0,349.2 901.5,346.0 920.0,342.7 938.5,339.6 957.0,337.1 975.5,336.1 994.0,335.7 1012.5,335.5 1031.0,335.4 1049.5,335.3 1068.0,335.2 1086.5,335.7 1105.0,336.6 1123.5,337.8 1142.0,339.8 1160.5,341.9 1179.0,342.8 1197.5,342.4 1216.0,341.5 1234.5,338.9 1253.0,334.8 1271.5,329.8 1290.0,325.6 1308.5,322.2 1327.0,320.7 1345.5,319.3 1364.0,316.9 1382.5,314.2 1401.0,310.0 1419.5,305.1 1438.0,300.1 1456.5,295.2 1475.0,290.2 1493.5,284.0 1512.0,277.4 1530.5,269.3 1549.0,260.1 1567.5,249.5" fill="none" stroke="#00ff00" stroke-width="5" stroke-linejoin="round" stroke-linecap="round" />
<polyline points="13.5,626.5 40.4,626.5 58.0,622.7 86.0,617.0 105.3,620.0 133.4,621.3 158.0,625.3 179.0,626.5 193.0,622.7 216.0,612.1 228.2,604.2 245.3,586.4 255.4,574.6 270.7,544.9 282.5,533.0 292.7,523.7 309.7,500.0 330.0,480.2 345.1,460.5 360.3,431.8 373.9,418.2 396.6,400.0 400.0,395.0 437.0,389.5 475.0,395.0 492.0,390.0 502.0,380.0 520.0,356.0 533.6,346.0 550.5,345.8 588.0,306.8 605.0,298.0 628.5,283.0 642.0,279.7 665.8,267.8 689.5,261.0 716.6,245.8 740.0,254.0 770.8,264.4 791.0,254.0 811.5,225.4 828.5,221.0 845.4,223.7 865.8,240.0 892.9,243.4 933.6,241.7 974.0,241.7 994.6,248.5 1021.7,244.0 1048.8,244.0 1070.5,233.2 1087.5,235.0 1104.4,248.5 1124.7,290.2 1141.7,293.2 1175.6,290.8 1199.3,285.8 1219.7,278.3 1236.6,276.6 1270.5,240.0 1311.2,211.2 1338.3,205.0 1362.0,201.7 1382.4,223.0 1419.7,241.7 1440.0,245.0 1474.0,231.5 1494.2,239.0 1511.6,209.5 1529.8,180.5 1549.0,143.7 1560.3,100.0 1567.5,66.0" fill="none" stroke="#ff0080" stroke-width="3.6" stroke-linejoin="round" stroke-linecap="round" />
<polyline points="13.5,682.0 40.7,681.7 50.8,682.0 67.8,689.3 84.7,694.0 135.6,695.0 172.4,691.0 184.0,692.0 214.7,699.2 254.0,726.0 271.0,749.5 280.0,756.7 308.3,776.6 327.2,784.1 346.1,796.1 365.0,808.7 383.9,807.7 401.2,803.9 418.5,794.5 437.4,782.9 456.3,764.6 475.2,744.1 495.6,730.9 512.9,733.7 531.8,726.8 550.7,710.5 568.0,704.8 586.9,711.1 607.3,700.1 624.7,696.9 643.5,681.2 660.9,676.5 679.7,668.6 698.6,660.7 716.0,657.6 733.3,634.0 752.1,610.4 772.6,582.0 789.9,568.8 808.0,574.6 825.0,571.2 845.4,562.7 865.8,533.9 892.9,527.0 926.8,516.9 957.3,506.8 974.2,509.2 994.6,498.3 1015.0,501.7 1031.9,507.8 1048.8,505.0 1069.0,523.7 1087.5,529.8 1104.4,523.0 1124.7,490.8 1158.6,489.2 1196.0,487.5 1233.2,492.5 1270.5,519.7 1307.8,524.7 1331.5,518.0 1365.4,509.5 1382.4,479.0 1419.7,438.3 1440.0,433.2 1460.3,433.2 1477.3,424.7 1494.2,409.5 1514.6,428.1 1548.5,458.6 1567.5,516.3" fill="none" stroke="#ff0080" stroke-width="3.6" stroke-linejoin="round" stroke-linecap="round" />
<polyline points="13.5,653.6 32.0,655.2 50.5,656.7 69.0,657.6 87.5,658.0 106.0,657.9 124.5,656.7 143.0,656.2 161.5,656.3 180.0,656.0 198.5,655.4 217.0,654.5 235.5,652.2 254.0,649.3 272.5,646.8 291.0,643.5 309.5,640.2 328.0,636.2 346.5,630.4 365.0,624.4 383.5,618.1 402.0,610.6 420.5,604.7 439.0,598.3 457.5,590.9 476.0,582.7 494.5,574.2 513.0,564.6 531.5,554.7 550.0,544.8 568.5,535.0 587.0,525.1 605.5,515.3 624.0,506.1 642.5,496.5 661.0,487.3 679.5,479.0 698.0,470.8 716.5,463.7 735.0,456.7 753.5,448.3 772.0,439.2 790.5,427.9 809.0,416.9 827.5,407.3 846.0,401.2 864.5,397.2 883.0,395.9 901.5,392.9 920.0,388.8 938.5,384.4 957.0,380.9 975.5,379.7 994.0,379.0 1012.5,379.1 1031.0,379.2 1049.5,379.2 1068.0,380.1 1086.5,380.7 1105.0,380.8 1123.5,381.1 1142.0,382.3 1160.5,385.3 1179.0,387.8 1197.5,388.4 1216.0,388.0 1234.5,383.9 1253.0,380.0 1271.5,376.3 1290.0,373.3 1308.5,370.5 1327.0,368.2 1345.5,365.6 1364.0,362.1 1382.5,358.4 1401.0,354.8 1419.5,351.0 1438.0,346.7 1456.5,340.8 1475.0,335.5 1493.5,330.7 1512.0,324.1 1530.5,316.1 1549.0,307.7 1567.5,298.8" fill="none" stroke="#800080" stroke-width="5.5" stroke-linejoin="round" stroke-linecap="round" />
<polyline points="13.5,654.2 32.0,654.6 50.5,654.9 69.0,655.3 87.5,656.0 106.0,656.9 124.5,658.0 143.0,658.5 161.5,658.7 180.0,658.3 198.5,657.1 217.0,655.6 235.5,653.3 254.0,650.6 272.5,646.3 291.0,642.7 309.5,638.5 328.0,633.3 346.5,624.8 365.0,616.5 383.5,608.3 402.0,599.4 420.5,592.4 439.0,585.2 457.5,577.2 476.0,568.7 494.5,559.8 513.0,548.3 531.5,537.7 550.0,527.9 568.5,518.3 587.0,509.0 605.5,499.7 624.0,490.0 642.5,481.4 661.0,474.1 679.5,467.4 698.0,459.4 716.5,451.6 735.0,443.6 753.5,433.3 772.0,422.6 790.5,411.3 809.0,400.4 827.5,395.3 846.0,391.6 864.5,387.9 883.0,386.5 901.5,383.9 920.0,380.8 938.5,377.6 957.0,374.8 975.5,373.5 994.0,372.9 1012.5,374.2 1031.0,374.8 1049.5,375.3 1068.0,378.6 1086.5,382.7 1105.0,387.2 1123.5,391.1 1142.0,391.5 1160.5,391.1 1179.0,390.2 1197.5,388.0 1216.0,385.5 1234.5,383.1 1253.0,380.4 1271.5,376.8 1290.0,372.9 1308.5,368.3 1327.0,363.7 1345.5,359.2 1364.0,355.0 1382.5,350.9 1401.0,346.9 1419.5,342.9 1438.0,338.7 1456.5,333.9 1475.0,328.9 1493.5,323.3 1512.0,316.8 1530.5,308.7 1549.0,300.1 1567.5,291.7" fill="none" stroke="#00ad42" stroke-width="2" stroke-linejoin="round" stroke-linecap="round" />
<polyline points="13.5,646.1 32.0,646.1 50.5,646.0 69.0,645.4 87.5,645.2 106.0,646.5 124.5,647.0 143.0,647.3 161.5,648.5 180.0,648.6 198.5,646.3 217.0,641.6 235.5,634.8 254.0,625.3 272.5,613.8 291.0,604.2 309.5,595.4 328.0,584.7 346.5,573.0 365.0,557.1 383.5,544.7 402.0,533.8 420.5,527.3 439.0,522.5 457.5,517.5 476.0,512.1 494.5,505.7 513.0,492.4 531.5,477.8 550.0,466.5 568.5,453.7 587.0,442.3 605.5,432.9 624.0,424.0 642.5,416.2 661.0,408.6 679.5,402.3 698.0,395.6 716.5,387.6 735.0,380.6 753.5,375.3 772.0,368.9 790.5,357.6 809.0,345.4 827.5,338.0 846.0,336.2 864.5,338.1 883.0,338.9 901.5,337.9 920.0,336.4 938.5,333.9 957.0,332.1 975.5,332.0 994.0,332.5 1012.5,332.7 1031.0,332.3 1049.5,331.9 1068.0,333.0 1086.5,337.5 1105.0,345.2 1123.5,356.8 1142.0,359.2 1160.5,359.0 1179.0,358.3 1197.5,354.8 1216.0,350.9 1234.5,347.0 1253.0,342.3 1271.5,336.7 1290.0,329.7 1308.5,322.2 1327.0,314.9 1345.5,307.7 1364.0,305.4 1382.5,307.8 1401.0,308.6 1419.5,308.2 1438.0,306.3 1456.5,302.8 1475.0,298.4 1493.5,293.9 1512.0,275.9 1530.5,261.2 1549.0,245.1 1567.5,219.8" fill="none" stroke="#ff0000" stroke-width="5.5" stroke-linejoin="round" stroke-linecap="round" />
<circle cx="13.5" cy="675.0" r="1.9" fill="#ff0000"/>
<circle cx="32.0" cy="673.8" r="1.9" fill="#ff0000"/>
<circle cx="50.5" cy="673.8" r="1.9" fill="#ff0000"/>
<circle cx="198.5" cy="683.8" r="1.9" fill="#ff0000"/>
<circle cx="217.0" cy="683.0" r="1.9" fill="#ff0000"/>
<circle cx="235.5" cy="681.0" r="1.9" fill="#ff0000"/>
<circle cx="254.0" cy="676.7" r="1.9" fill="#ff0000"/>
<circle cx="272.5" cy="670.0" r="1.9" fill="#ff0000"/>
<circle cx="291.0" cy="659.9" r="1.9" fill="#ff0000"/>
<circle cx="309.5" cy="650.0" r="1.9" fill="#ff0000"/>
<circle cx="328.0" cy="637.6" r="1.9" fill="#ff0000"/>
<circle cx="346.5" cy="625.0" r="1.9" fill="#ff0000"/>
<circle cx="365.0" cy="608.8" r="1.9" fill="#ff0000"/>
<circle cx="383.5" cy="581.9" r="1.9" fill="#ff0000"/>
<circle cx="402.0" cy="559.8" r="1.9" fill="#ff0000"/>
<circle cx="513.0" cy="549.8" r="1.9" fill="#ff0000"/>
<circle cx="531.5" cy="547.9" r="1.9" fill="#ff0000"/>
<circle cx="550.0" cy="543.8" r="1.9" fill="#ff0000"/>
<circle cx="568.5" cy="535.7" r="1.9" fill="#ff0000"/>
<circle cx="587.0" cy="528.8" r="1.9" fill="#ff0000"/>
<circle cx="605.5" cy="519.7" r="1.9" fill="#ff0000"/>
<circle cx="624.0" cy="507.8" r="1.9" fill="#ff0000"/>
<circle cx="642.5" cy="494.2" r="1.9" fill="#ff0000"/>
<circle cx="661.0" cy="479.8" r="1.9" fill="#ff0000"/>
<circle cx="679.5" cy="467.7" r="1.9" fill="#ff0000"/>
<circle cx="698.0" cy="457.8" r="1.9" fill="#ff0000"/>
<circle cx="716.5" cy="449.0" r="1.9" fill="#ff0000"/>
<circle cx="735.0" cy="436.7" r="1.9" fill="#ff0000"/>
<circle cx="753.5" cy="423.8" r="1.9" fill="#ff0000"/>
<circle cx="772.0" cy="413.7" r="1.9" fill="#ff0000"/>
<circle cx="790.5" cy="398.6" r="1.9" fill="#ff0000"/>
<circle cx="809.0" cy="380.7" r="1.9" fill="#ff0000"/>
<circle cx="1105.0" cy="450.9" r="1.9" fill="#ff0000"/>
<circle cx="1123.5" cy="449.0" r="1.9" fill="#ff0000"/>
<circle cx="1142.0" cy="446.0" r="1.9" fill="#ff0000"/>
<circle cx="1160.5" cy="440.0" r="1.9" fill="#ff0000"/>
<circle cx="1179.0" cy="434.0" r="1.9" fill="#ff0000"/>
<circle cx="1197.5" cy="427.7" r="1.9" fill="#ff0000"/>
<circle cx="1216.0" cy="423.0" r="1.9" fill="#ff0000"/>
<circle cx="1234.5" cy="418.9" r="1.9" fill="#ff0000"/>
<circle cx="1253.0" cy="413.9" r="1.9" fill="#ff0000"/>
<circle cx="1271.5" cy="406.1" r="1.9" fill="#ff0000"/>
<circle cx="1290.0" cy="393.8" r="1.9" fill="#ff0000"/>
<circle cx="1308.5" cy="382.9" r="1.9" fill="#ff0000"/>
<circle cx="1327.0" cy="373.8" r="1.9" fill="#ff0000"/>
<circle cx="1345.5" cy="364.8" r="1.9" fill="#ff0000"/>
<circle cx="1364.0" cy="356.9" r="1.9" fill="#ff0000"/>
<circle cx="1475.0" cy="367.8" r="1.9" fill="#ff0000"/>
<circle cx="1493.5" cy="365.4" r="1.9" fill="#ff0000"/>
<circle cx="1512.0" cy="364.7" r="1.9" fill="#ff0000"/>
<circle cx="1530.5" cy="359.7" r="1.9" fill="#ff0000"/>
<circle cx="1549.0" cy="350.8" r="1.9" fill="#ff0000"/>
<circle cx="1567.5" cy="339.0" r="1.9" fill="#ff0000"/>
<circle cx="69.0" cy="636.5" r="1.9" fill="#2f6ff0"/>
<circle cx="87.5" cy="637.5" r="1.9" fill="#2f6ff0"/>
<circle cx="106.0" cy="638.5" r="1.9" fill="#2f6ff0"/>
<circle cx="124.5" cy="639.5" r="1.9" fill="#2f6ff0"/>
<circle cx="143.0" cy="640.0" r="1.9" fill="#2f6ff0"/>
<circle cx="161.5" cy="641.0" r="1.9" fill="#2f6ff0"/>
<circle cx="180.0" cy="641.5" r="1.9" fill="#2f6ff0"/>
<circle cx="420.5" cy="473.1" r="1.9" fill="#2f6ff0"/>
<circle cx="439.0" cy="474.9" r="1.9" fill="#2f6ff0"/>
<circle cx="457.5" cy="476.0" r="1.9" fill="#2f6ff0"/>
<circle cx="476.0" cy="477.9" r="1.9" fill="#2f6ff0"/>
<circle cx="494.5" cy="478.4" r="1.9" fill="#2f6ff0"/>
<circle cx="827.5" cy="290.0" r="1.9" fill="#2f6ff0"/>
<circle cx="846.0" cy="291.0" r="1.9" fill="#2f6ff0"/>
<circle cx="864.5" cy="296.0" r="1.9" fill="#2f6ff0"/>
<circle cx="883.0" cy="300.9" r="1.9" fill="#2f6ff0"/>
<circle cx="901.5" cy="309.6" r="1.9" fill="#2f6ff0"/>
<circle cx="938.5" cy="326.5" r="1.9" fill="#2f6ff0"/>
<circle cx="957.0" cy="333.0" r="1.9" fill="#2f6ff0"/>
<circle cx="975.5" cy="340.0" r="1.9" fill="#2f6ff0"/>
<circle cx="994.0" cy="346.0" r="1.9" fill="#2f6ff0"/>
<circle cx="1012.5" cy="351.9" r="1.9" fill="#2f6ff0"/>
<circle cx="1031.0" cy="357.7" r="1.9" fill="#2f6ff0"/>
<circle cx="1049.5" cy="362.9" r="1.9" fill="#2f6ff0"/>
<circle cx="1068.0" cy="367.9" r="1.9" fill="#2f6ff0"/>
<circle cx="1086.5" cy="374.7" r="1.9" fill="#2f6ff0"/>
<circle cx="1382.5" cy="285.0" r="1.9" fill="#2f6ff0"/>
<circle cx="1401.0" cy="286.9" r="1.9" fill="#2f6ff0"/>
<circle cx="1438.0" cy="291.5" r="1.9" fill="#2f6ff0"/>
<polyline points="13.5,586.7 32.0,585.4 50.5,584.3 69.0,584.9 87.5,585.8 106.0,586.7 124.5,587.2 143.0,586.9 161.5,586.2 180.0,585.1 198.5,583.7 217.0,582.1 235.5,580.1 254.0,578.2 272.5,576.6 291.0,574.7 309.5,570.3 328.0,565.6 346.5,559.8 365.0,554.9 383.5,550.8 402.0,544.5 420.5,539.0 439.0,534.8 457.5,528.3 476.0,521.3 494.5,513.5 513.0,505.1 531.5,496.2 550.0,489.1 568.5,481.2 587.0,473.5 605.5,465.9 624.0,456.6 642.5,446.6 661.0,437.0 679.5,427.8 698.0,419.2 716.5,410.2 735.0,400.3 753.5,391.4 772.0,383.3 790.5,375.4 809.0,367.5 827.5,359.8 846.0,353.0 864.5,346.8 883.0,341.1 901.5,335.0 920.0,328.7 938.5,323.8 957.0,319.5 975.5,315.9 994.0,313.9 1012.5,312.7 1031.0,311.8 1049.5,311.7 1068.0,312.9 1086.5,313.0 1105.0,312.3 1123.5,310.9 1142.0,309.5 1160.5,308.6 1179.0,307.8 1197.5,307.4 1216.0,307.3 1234.5,307.5 1253.0,306.7 1271.5,304.8 1290.0,301.2 1308.5,297.1 1327.0,296.3 1345.5,296.0 1364.0,294.7 1382.5,293.3 1401.0,292.1 1419.5,290.4 1438.0,287.7 1456.5,283.8 1475.0,278.7 1493.5,272.3 1512.0,264.9 1530.5,256.3 1549.0,248.0 1567.5,239.8" fill="none" stroke="#ffc0cb" stroke-width="6" stroke-linejoin="round" stroke-linecap="round" />
<polyline points="13.5,710.9 32.0,709.8 50.5,709.0 69.0,708.5 87.5,708.9 106.0,709.3 124.5,709.8 143.0,710.4 161.5,709.9 180.0,709.1 198.5,708.0 217.0,706.6 235.5,704.8 254.0,702.5 272.5,700.1 291.0,697.5 309.5,693.3 328.0,687.4 346.5,681.8 365.0,676.6 383.5,672.2 402.0,667.7 420.5,662.5 439.0,660.0 457.5,655.2 476.0,648.1 494.5,640.6 513.0,632.6 531.5,624.4 550.0,615.0 568.5,606.3 587.0,598.3 605.5,590.3 624.0,581.0 642.5,570.5 661.0,560.0 679.5,550.7 698.0,542.3 716.5,534.0 735.0,525.7 753.5,517.3 772.0,508.4 790.5,499.1 809.0,490.6 827.5,483.0 846.0,476.0 864.5,469.3 883.0,463.0 901.5,456.8 920.0,451.3 938.5,446.2 957.0,441.6 975.5,438.9 994.0,437.1 1012.5,436.8 1031.0,436.0 1049.5,435.0 1068.0,436.4 1086.5,437.5 1105.0,436.9 1123.5,434.2 1142.0,432.8 1160.5,432.2 1179.0,432.1 1197.5,432.4 1216.0,432.8 1234.5,433.2 1253.0,433.0 1271.5,430.4 1290.0,426.6 1308.5,423.4 1327.0,420.9 1345.5,418.8 1364.0,417.3 1382.5,415.7 1401.0,413.0 1419.5,409.8 1438.0,406.5 1456.5,402.8 1475.0,399.0 1493.5,394.6 1512.0,387.2 1530.5,379.8 1549.0,371.7 1567.5,362.5" fill="none" stroke="#ffc0cb" stroke-width="6" stroke-linejoin="round" stroke-linecap="round" />
<polyline points="13.5,642.5 32.0,641.9 50.5,640.5 69.0,638.7 87.5,638.7 106.0,639.6 124.5,640.8 143.0,642.0 161.5,643.0 180.0,642.6 198.5,640.1 217.0,635.4 235.5,627.5 254.0,617.0 272.5,604.1 291.0,589.8 309.5,577.3 328.0,565.9 346.5,546.3 365.0,532.5 383.5,520.6 402.0,508.7 420.5,501.5 439.0,495.6 457.5,492.4 476.0,488.5 494.5,479.0 513.0,463.2 531.5,451.4 550.0,442.6 568.5,431.9 587.0,420.2 605.5,410.0 624.0,399.6 642.5,390.6 661.0,382.8 679.5,376.4 698.0,368.0 716.5,359.4 735.0,356.0 753.5,353.1 772.0,349.3 790.5,339.1 809.0,325.6 827.5,317.5 846.0,316.0 864.5,320.0 883.0,321.4 901.5,320.2 920.0,318.5 938.5,317.1 957.0,316.3 975.5,316.5 994.0,316.7 1012.5,316.6 1031.0,315.7 1049.5,314.3 1068.0,313.7 1086.5,318.2 1105.0,327.8 1123.5,342.0 1142.0,346.4 1160.5,346.6 1179.0,345.6 1197.5,343.6 1216.0,339.0 1234.5,334.5 1253.0,323.4 1271.5,313.2 1290.0,305.0 1308.5,298.5 1327.0,293.6 1345.5,289.2 1364.0,286.6 1382.5,292.4 1401.0,295.7 1419.5,296.7 1438.0,295.9 1456.5,293.1 1475.0,285.3 1493.5,281.0 1512.0,266.0 1530.5,247.7 1549.0,226.5 1567.5,192.2" fill="none" stroke="#ff6820" stroke-width="5.5" stroke-linejoin="round" stroke-linecap="round" />
<rect x="10" y="53" width="3" height="7" fill="#333"/>
<text x="16.5" y="61.5" font-family="'Liberation Sans','NanumGothic','Noto Sans CJK KR',sans-serif" font-size="13" fill="#333" font-weight="bold" text-anchor="start" textLength="84.5" lengthAdjust="spacingAndGlyphs" >*삼성전자(통)</text>
<rect x="1578" y="47" width="3" height="167" fill="#e80000" />
<rect x="1578" y="214" width="3" height="1" fill="#30a030" />
<rect x="1578" y="215" width="3" height="322" fill="#0050e8" />
<rect x="1528.5" y="47.5" width="46" height="14" fill="#ffffff" stroke="#000" stroke-width="1" />
<text x="1551.5" y="59" font-family="'Liberation Sans','NanumGothic','Noto Sans CJK KR',sans-serif" font-size="12" fill="#e00000" font-weight="normal" text-anchor="middle" textLength="41" lengthAdjust="spacingAndGlyphs" >155,800</text>
<line x1="1582" y1="787.5" x2="1584.5" y2="787.5" stroke="#a0a0a0" stroke-width="1"/>
<line x1="1582" y1="769.5" x2="1584.5" y2="769.5" stroke="#a0a0a0" stroke-width="1"/>
<line x1="1582" y1="751.5" x2="1586" y2="751.5" stroke="#a0a0a0" stroke-width="1"/>
<line x1="1582" y1="733.5" x2="1584.5" y2="733.5" stroke="#a0a0a0" stroke-width="1"/>
<line x1="1582" y1="715.5" x2="1584.5" y2="715.5" stroke="#a0a0a0" stroke-width="1"/>
<line x1="1582" y1="697.5" x2="1584.5" y2="697.5" stroke="#a0a0a0" stroke-width="1"/>
<line x1="1582" y1="679.5" x2="1584.5" y2="679.5" stroke="#a0a0a0" stroke-width="1"/>
<line x1="1582" y1="661.5" x2="1586" y2="661.5" stroke="#a0a0a0" stroke-width="1"/>
<line x1="1582" y1="643.5" x2="1584.5" y2="643.5" stroke="#a0a0a0" stroke-width="1"/>
<line x1="1582" y1="626.5" x2="1584.5" y2="626.5" stroke="#a0a0a0" stroke-width="1"/>
<line x1="1582" y1="608.5" x2="1584.5" y2="608.5" stroke="#a0a0a0" stroke-width="1"/>
<line x1="1582" y1="590.5" x2="1584.5" y2="590.5" stroke="#a0a0a0" stroke-width="1"/>
<line x1="1582" y1="572.5" x2="1586" y2="572.5" stroke="#a0a0a0" stroke-width="1"/>
<line x1="1582" y1="554.5" x2="1584.5" y2="554.5" stroke="#a0a0a0" stroke-width="1"/>
<line x1="1582" y1="536.5" x2="1584.5" y2="536.5" stroke="#a0a0a0" stroke-width="1"/>
<line x1="1582" y1="518.5" x2="1584.5" y2="518.5" stroke="#a0a0a0" stroke-width="1"/>
<line x1="1582" y1="500.5" x2="1584.5" y2="500.5" stroke="#a0a0a0" stroke-width="1"/>
<line x1="1582" y1="482.5" x2="1586" y2="482.5" stroke="#a0a0a0" stroke-width="1"/>
<line x1="1582" y1="464.5" x2="1584.5" y2="464.5" stroke="#a0a0a0" stroke-width="1"/>
<line x1="1582" y1="446.5" x2="1584.5" y2="446.5" stroke="#a0a0a0" stroke-width="1"/>
<line x1="1582" y1="428.5" x2="1584.5" y2="428.5" stroke="#a0a0a0" stroke-width="1"/>
<line x1="1582" y1="410.5" x2="1584.5" y2="410.5" stroke="#a0a0a0" stroke-width="1"/>
<line x1="1582" y1="393.5" x2="1586" y2="393.5" stroke="#a0a0a0" stroke-width="1"/>
<line x1="1582" y1="375.5" x2="1584.5" y2="375.5" stroke="#a0a0a0" stroke-width="1"/>
<line x1="1582" y1="357.5" x2="1584.5" y2="357.5" stroke="#a0a0a0" stroke-width="1"/>
<line x1="1582" y1="339.5" x2="1584.5" y2="339.5" stroke="#a0a0a0" stroke-width="1"/>
<line x1="1582" y1="321.5" x2="1584.5" y2="321.5" stroke="#a0a0a0" stroke-width="1"/>
<line x1="1582" y1="303.5" x2="1586" y2="303.5" stroke="#a0a0a0" stroke-width="1"/>
<line x1="1582" y1="285.5" x2="1584.5" y2="285.5" stroke="#a0a0a0" stroke-width="1"/>
<line x1="1582" y1="267.5" x2="1584.5" y2="267.5" stroke="#a0a0a0" stroke-width="1"/>
<line x1="1582" y1="249.5" x2="1584.5" y2="249.5" stroke="#a0a0a0" stroke-width="1"/>
<line x1="1582" y1="231.5" x2="1584.5" y2="231.5" stroke="#a0a0a0" stroke-width="1"/>
<line x1="1582" y1="213.5" x2="1586" y2="213.5" stroke="#a0a0a0" stroke-width="1"/>
<line x1="1582" y1="195.5" x2="1584.5" y2="195.5" stroke="#a0a0a0" stroke-width="1"/>
<line x1="1582" y1="177.5" x2="1584.5" y2="177.5" stroke="#a0a0a0" stroke-width="1"/>
<line x1="1582" y1="160.5" x2="1584.5" y2="160.5" stroke="#a0a0a0" stroke-width="1"/>
<line x1="1582" y1="142.5" x2="1584.5" y2="142.5" stroke="#a0a0a0" stroke-width="1"/>
<line x1="1582" y1="124.5" x2="1586" y2="124.5" stroke="#a0a0a0" stroke-width="1"/>
<line x1="1582" y1="106.5" x2="1584.5" y2="106.5" stroke="#a0a0a0" stroke-width="1"/>
<line x1="1582" y1="88.5" x2="1584.5" y2="88.5" stroke="#a0a0a0" stroke-width="1"/>
<line x1="1582" y1="70.5" x2="1584.5" y2="70.5" stroke="#a0a0a0" stroke-width="1"/>
<line x1="1582" y1="52.5" x2="1584.5" y2="52.5" stroke="#a0a0a0" stroke-width="1"/>
<text x="1634.5" y="755.5" font-family="'Liberation Sans','NanumGothic','Noto Sans CJK KR',sans-serif" font-size="12" fill="#333" font-weight="normal" text-anchor="end" textLength="40.5" lengthAdjust="spacingAndGlyphs" >60,000</text>
<text x="1634.5" y="665.88" font-family="'Liberation Sans','NanumGothic','Noto Sans CJK KR',sans-serif" font-size="12" fill="#333" font-weight="normal" text-anchor="end" textLength="40.5" lengthAdjust="spacingAndGlyphs" >70,000</text>
<text x="1634.5" y="576.26" font-family="'Liberation Sans','NanumGothic','Noto Sans CJK KR',sans-serif" font-size="12" fill="#333" font-weight="normal" text-anchor="end" textLength="40.5" lengthAdjust="spacingAndGlyphs" >80,000</text>
<text x="1634.5" y="486.64000000000004" font-family="'Liberation Sans','NanumGothic','Noto Sans CJK KR',sans-serif" font-size="12" fill="#333" font-weight="normal" text-anchor="end" textLength="40.5" lengthAdjust="spacingAndGlyphs" >90,000</text>
<text x="1634.5" y="397.02000000000004" font-family="'Liberation Sans','NanumGothic','Noto Sans CJK KR',sans-serif" font-size="12" fill="#333" font-weight="normal" text-anchor="end" textLength="40.5" lengthAdjust="spacingAndGlyphs" >100,000</text>
<text x="1634.5" y="307.40000000000003" font-family="'Liberation Sans','NanumGothic','Noto Sans CJK KR',sans-serif" font-size="12" fill="#333" font-weight="normal" text-anchor="end" textLength="40.5" lengthAdjust="spacingAndGlyphs" >110,000</text>
<text x="1634.5" y="217.7800000000001" font-family="'Liberation Sans','NanumGothic','Noto Sans CJK KR',sans-serif" font-size="12" fill="#333" font-weight="normal" text-anchor="end" textLength="40.5" lengthAdjust="spacingAndGlyphs" >120,000</text>
<text x="1634.5" y="128.16000000000008" font-family="'Liberation Sans','NanumGothic','Noto Sans CJK KR',sans-serif" font-size="12" fill="#333" font-weight="normal" text-anchor="end" textLength="40.5" lengthAdjust="spacingAndGlyphs" >130,000</text>
<polygon points="1581,130 1588,124 1588,136" fill="#e80000"/>
<rect x="1588.5" y="122.5" width="44.5" height="27" fill="#e80000" />
<text x="1610.5" y="134" font-family="'Liberation Sans','NanumGothic','Noto Sans CJK KR',sans-serif" font-size="12" fill="#ffffff" font-weight="normal" text-anchor="middle" textLength="40" lengthAdjust="spacingAndGlyphs" >129,300</text>
<text x="1610.5" y="147" font-family="'Liberation Sans','NanumGothic','Noto Sans CJK KR',sans-serif" font-size="12" fill="#ffffff" font-weight="normal" text-anchor="middle" textLength="40" lengthAdjust="spacingAndGlyphs" >(7.84%)</text>
<rect x="1585.5" y="529.5" width="41" height="14" fill="#ffffff" stroke="#000" stroke-width="1.3" />
<text x="1606" y="541" font-family="'Liberation Sans','NanumGothic','Noto Sans CJK KR',sans-serif" font-size="12" fill="#0050f0" font-weight="normal" text-anchor="middle" textLength="35" lengthAdjust="spacingAndGlyphs" >84,000</text>
<rect x="1582.5" y="47.0" width="9" height="9" fill="#ffffff" stroke="#000" stroke-width="1.2" />
<text x="1587" y="55.0" font-family="'Liberation Sans','NanumGothic','Noto Sans CJK KR',sans-serif" font-size="8" fill="#000" font-weight="bold" text-anchor="middle" >L</text>
<rect x="1591.5" y="47.0" width="9" height="9" fill="#ffffff" stroke="#000" stroke-width="1.2" />
<text x="1596" y="55.0" font-family="'Liberation Sans','NanumGothic','Noto Sans CJK KR',sans-serif" font-size="8" fill="#000" font-weight="bold" text-anchor="middle" >I</text>
<rect x="1600.5" y="47.0" width="9" height="9" fill="#ffffff" stroke="#000" stroke-width="1.2" />
<text x="1605" y="55.0" font-family="'Liberation Sans','NanumGothic','Noto Sans CJK KR',sans-serif" font-size="8" fill="#000" font-weight="bold" text-anchor="middle" >R</text>
<rect x="1637.5" y="47.0" width="9" height="9" fill="#ffffff" stroke="#000" stroke-width="1.2" />
<rect x="1639.5" y="49.0" width="5" height="4.5" fill="#ffffff" stroke="#000" stroke-width="1.2" />
<rect x="1582.5" y="812.0" width="9" height="9" fill="#ffffff" stroke="#000" stroke-width="1.2" />
<text x="1587" y="820.0" font-family="'Liberation Sans','NanumGothic','Noto Sans CJK KR',sans-serif" font-size="8" fill="#000" font-weight="bold" text-anchor="middle" >L</text>
<rect x="1591.5" y="812.0" width="9" height="9" fill="#ffffff" stroke="#000" stroke-width="1.2" />
<text x="1596" y="820.0" font-family="'Liberation Sans','NanumGothic','Noto Sans CJK KR',sans-serif" font-size="8" fill="#000" font-weight="bold" text-anchor="middle" >I</text>
<rect x="1628.5" y="812.0" width="9" height="9" fill="#ffffff" stroke="#000" stroke-width="1.2" />
<rect x="1630.5" y="814.0" width="5" height="4.5" fill="#ffffff" stroke="#000" stroke-width="1.2" />
<rect x="1637.5" y="812.0" width="9" height="9" fill="#ffffff" stroke="#000" stroke-width="1.2" />
<path d="M1639.5,814.0 l5,5 M1644.5,814.0 l-5,5" stroke="#000" stroke-width="1"/>
<rect x="1582.5" y="967.0" width="9" height="9" fill="#ffffff" stroke="#000" stroke-width="1.2" />
<text x="1587" y="975.0" font-family="'Liberation Sans','NanumGothic','Noto Sans CJK KR',sans-serif" font-size="8" fill="#000" font-weight="bold" text-anchor="middle" >L</text>
<rect x="1591.5" y="967.0" width="9" height="9" fill="#ffffff" stroke="#000" stroke-width="1.2" />
<text x="1596" y="975.0" font-family="'Liberation Sans','NanumGothic','Noto Sans CJK KR',sans-serif" font-size="8" fill="#000" font-weight="bold" text-anchor="middle" >I</text>
<rect x="1628.5" y="967.0" width="9" height="9" fill="#ffffff" stroke="#000" stroke-width="1.2" />
<rect x="1630.5" y="969.0" width="5" height="4.5" fill="#ffffff" stroke="#000" stroke-width="1.2" />
<rect x="1637.5" y="967.0" width="9" height="9" fill="#ffffff" stroke="#000" stroke-width="1.2" />
<path d="M1639.5,969.0 l5,5 M1644.5,969.0 l-5,5" stroke="#000" stroke-width="1"/>
<rect x="1582.5" y="1056.0" width="9" height="9" fill="#ffffff" stroke="#000" stroke-width="1.2" />
<text x="1587" y="1064.0" font-family="'Liberation Sans','NanumGothic','Noto Sans CJK KR',sans-serif" font-size="8" fill="#000" font-weight="bold" text-anchor="middle" >L</text>
<rect x="1591.5" y="1056.0" width="9" height="9" fill="#ffffff" stroke="#000" stroke-width="1.2" />
<text x="1596" y="1064.0" font-family="'Liberation Sans','NanumGothic','Noto Sans CJK KR',sans-serif" font-size="8" fill="#000" font-weight="bold" text-anchor="middle" >I</text>
<rect x="1628.5" y="1056.0" width="9" height="9" fill="#ffffff" stroke="#000" stroke-width="1.2" />
<rect x="1630.5" y="1058.0" width="5" height="4.5" fill="#ffffff" stroke="#000" stroke-width="1.2" />
<rect x="1637.5" y="1056.0" width="9" height="9" fill="#ffffff" stroke="#000" stroke-width="1.2" />
<path d="M1639.5,1058.0 l5,5 M1644.5,1058.0 l-5,5" stroke="#000" stroke-width="1"/>
<rect x="5.0" y="949.1" width="17" height="15.9" fill="#003f87" />
<rect x="23.5" y="948.3" width="17" height="16.7" fill="#003f87" />
<rect x="42.0" y="948.3" width="17" height="16.7" fill="#003f87" />
<rect x="60.5" y="942.3" width="17" height="22.7" fill="#003f87" />
<rect x="79.0" y="949.5" width="17" height="15.5" fill="#003f87" />
<rect x="97.5" y="950.0" width="17" height="15.0" fill="#003f87" />
<rect x="116.0" y="947.8" width="17" height="17.2" fill="#003f87" />
<rect x="134.5" y="947.8" width="17" height="17.2" fill="#003f87" />
<rect x="153.0" y="951.2" width="17" height="13.8" fill="#003f87" />
<rect x="171.5" y="941.8" width="17" height="23.2" fill="#003f87" />
<rect x="190.0" y="931.4" width="17" height="33.6" fill="#003f87" />
<rect x="208.5" y="931.4" width="17" height="33.6" fill="#003f87" />
<rect x="227.0" y="913.9" width="17" height="51.1" fill="#003f87" />
<rect x="245.5" y="925.8" width="17" height="39.2" fill="#003f87" />
<rect x="264.0" y="912.0" width="17" height="53.0" fill="#003f87" />
<rect x="282.5" y="921.7" width="17" height="43.3" fill="#003f87" />
<rect x="301.0" y="916.4" width="17" height="48.6" fill="#003f87" />
<rect x="319.5" y="922.9" width="17" height="42.1" fill="#003f87" />
<rect x="338.0" y="906.0" width="17" height="59.0" fill="#003f87" />
<rect x="356.5" y="907.7" width="17" height="57.3" fill="#003f87" />
<rect x="375.0" y="924.8" width="17" height="40.2" fill="#003f87" />
<rect x="393.5" y="925.3" width="17" height="39.7" fill="#003f87" />
<rect x="412.0" y="913.9" width="17" height="51.1" fill="#003f87" />
<rect x="430.5" y="936.2" width="17" height="28.8" fill="#003f87" />
<rect x="449.0" y="934.3" width="17" height="30.7" fill="#003f87" />
<rect x="467.5" y="918.8" width="17" height="46.2" fill="#003f87" />
<rect x="486.0" y="861.9" width="17" height="103.1" fill="#003f87" />
<rect x="504.5" y="883.9" width="17" height="81.1" fill="#003f87" />
<rect x="523.0" y="899.9" width="17" height="65.1" fill="#003f87" />
<rect x="541.5" y="876.2" width="17" height="88.8" fill="#003f87" />
<rect x="560.0" y="912.0" width="17" height="53.0" fill="#003f87" />
<rect x="578.5" y="896.3" width="17" height="68.7" fill="#003f87" />
<rect x="597.0" y="898.0" width="17" height="67.0" fill="#003f87" />
<rect x="615.5" y="916.9" width="17" height="48.1" fill="#003f87" />
<rect x="634.0" y="906.0" width="17" height="59.0" fill="#003f87" />
<rect x="652.5" y="924.1" width="17" height="40.9" fill="#003f87" />
<rect x="671.0" y="921.7" width="17" height="43.3" fill="#003f87" />
<rect x="689.5" y="918.1" width="17" height="46.9" fill="#003f87" />
<rect x="708.0" y="890.9" width="17" height="74.1" fill="#003f87" />
<rect x="726.5" y="912.0" width="17" height="53.0" fill="#003f87" />
<rect x="745.0" y="907.9" width="17" height="57.1" fill="#003f87" />
<rect x="763.5" y="866.0" width="17" height="99.0" fill="#003f87" />
<rect x="782.0" y="830.0" width="17" height="135.0" fill="#003f87" />
<rect x="800.5" y="874.0" width="17" height="91.0" fill="#003f87" />
<rect x="819.0" y="864.1" width="17" height="100.9" fill="#003f87" />
<rect x="837.5" y="832.8" width="17" height="132.2" fill="#003f87" />
<rect x="856.0" y="885.9" width="17" height="79.1" fill="#003f87" />
<rect x="874.5" y="899.9" width="17" height="65.1" fill="#003f87" />
<rect x="893.0" y="904.0" width="17" height="61.0" fill="#003f87" />
<rect x="911.5" y="887.1" width="17" height="77.9" fill="#003f87" />
<rect x="930.0" y="916.1" width="17" height="48.9" fill="#003f87" />
<rect x="948.5" y="918.1" width="17" height="46.9" fill="#003f87" />
<rect x="967.0" y="906.0" width="17" height="59.0" fill="#003f87" />
<rect x="985.5" y="921.0" width="17" height="44.0" fill="#003f87" />
<rect x="1004.0" y="921.0" width="17" height="44.0" fill="#003f87" />
<rect x="1022.5" y="918.8" width="17" height="46.2" fill="#003f87" />
<rect x="1041.0" y="898.0" width="17" height="67.0" fill="#003f87" />
<rect x="1059.5" y="901.1" width="17" height="63.9" fill="#003f87" />
<rect x="1078.0" y="897.0" width="17" height="68.0" fill="#003f87" />
<rect x="1096.5" y="918.8" width="17" height="46.2" fill="#003f87" />
<rect x="1115.0" y="904.0" width="17" height="61.0" fill="#003f87" />
<rect x="1133.5" y="916.1" width="17" height="48.9" fill="#003f87" />
<rect x="1152.0" y="926.1" width="17" height="38.9" fill="#003f87" />
<rect x="1170.5" y="935.0" width="17" height="30.0" fill="#003f87" />
<rect x="1189.0" y="928.7" width="17" height="36.3" fill="#003f87" />
<rect x="1207.5" y="923.7" width="17" height="41.3" fill="#003f87" />
<rect x="1226.0" y="931.7" width="17" height="33.3" fill="#003f87" />
<rect x="1244.5" y="910.8" width="17" height="54.2" fill="#003f87" />
<rect x="1263.0" y="919.8" width="17" height="45.2" fill="#003f87" />
<rect x="1281.5" y="928.0" width="17" height="37.0" fill="#003f87" />
<rect x="1300.0" y="928.7" width="17" height="36.3" fill="#003f87" />
<rect x="1318.5" y="904.9" width="17" height="60.1" fill="#003f87" />
<rect x="1337.0" y="928.0" width="17" height="37.0" fill="#003f87" />
<rect x="1355.5" y="911.8" width="17" height="53.2" fill="#003f87" />
<rect x="1374.0" y="920.5" width="17" height="44.5" fill="#003f87" />
<rect x="1392.5" y="909.8" width="17" height="55.2" fill="#003f87" />
<rect x="1411.0" y="908.9" width="17" height="56.1" fill="#003f87" />
<rect x="1429.5" y="901.9" width="17" height="63.1" fill="#003f87" />
<rect x="1448.0" y="895.7" width="17" height="69.3" fill="#003f87" />
<rect x="1466.5" y="909.8" width="17" height="55.2" fill="#003f87" />
<rect x="1485.0" y="930.9" width="17" height="34.1" fill="#003f87" />
<rect x="1503.5" y="871.6" width="17" height="93.4" fill="#003f87" />
<rect x="1522.0" y="898.9" width="17" height="66.1" fill="#003f87" />
<rect x="1540.5" y="910.8" width="17" height="54.2" fill="#003f87" />
<rect x="1559.0" y="880.8" width="17" height="84.2" fill="#003f87" />
<polyline points="13.5,964.4 41.0,962.9 96.9,960.4 169.5,957.3 225.2,955.1 266.3,952.4 314.8,947.6 363.2,944.2 400.0,941.1 462.6,938.2 535.3,932.6 583.7,928.2 632.1,924.1 680.6,921.2 729.0,916.4 790.0,911.5 876.9,902.3 973.7,893.8 1070.6,886.1 1180.0,879.8 1269.3,872.1 1368.6,867.9 1467.8,865.4 1567.5,861.0" fill="none" stroke="#2266ff" stroke-width="1.2" stroke-linejoin="round" stroke-linecap="round" />
<polyline points="13.5,944.7 26.6,946.4 50.8,946.4 69.0,950.0 96.9,946.6 123.5,944.0 142.9,945.9 157.4,944.7 188.9,938.6 217.9,931.4 242.1,924.1 272.4,915.6 290.6,920.0 309.9,915.2 326.9,919.3 351.1,910.8 375.3,904.7 400.9,898.7 421.5,904.3 438.4,901.8 456.6,904.7 472.3,899.9 491.7,890.2 511.1,881.7 530.4,875.7 549.8,883.7 569.2,878.1 587.3,872.8 605.5,878.6 623.7,875.2 643.0,879.8 661.2,876.2 679.3,880.0 697.5,875.7 716.9,869.2 735.0,873.8 753.2,869.6 772.6,860.0 794.5,845.4 809.1,840.6 828.4,851.5 845.4,862.4 864.7,869.6 882.9,875.2 901.1,868.4 920.4,861.9 937.4,866.7 956.8,870.8 974.9,876.2 993.1,871.6 1012.4,876.2 1031.8,881.0 1048.8,875.2 1068.1,881.0 1087.5,873.3 1106.9,868.4 1123.8,864.3 1143.2,860.4 1162.6,864.1 1180.0,866.7 1199.8,862.7 1219.6,858.5 1244.5,853.5 1271.8,849.0 1291.6,851.8 1309.0,849.0 1328.8,853.5 1346.2,851.0 1366.1,856.0 1383.5,858.5 1403.3,854.7 1420.7,854.7 1438.0,859.7 1457.9,853.5 1475.3,849.8 1495.1,853.0 1512.5,844.3 1529.9,839.9 1549.7,834.9 1567.5,829.9" fill="none" stroke="#ff0000" stroke-width="3.8" stroke-linejoin="round" stroke-linecap="round" />
<line x1="1582" y1="964.5" x2="1586" y2="964.5" stroke="#a0a0a0" stroke-width="1"/>
<line x1="1582" y1="956.5" x2="1586" y2="956.5" stroke="#a0a0a0" stroke-width="1"/>
<line x1="1582" y1="948.5" x2="1586" y2="948.5" stroke="#a0a0a0" stroke-width="1"/>
<line x1="1582" y1="940.5" x2="1586" y2="940.5" stroke="#a0a0a0" stroke-width="1"/>
<line x1="1582" y1="932.5" x2="1586" y2="932.5" stroke="#a0a0a0" stroke-width="1"/>
<line x1="1582" y1="924.5" x2="1586" y2="924.5" stroke="#a0a0a0" stroke-width="1"/>
<line x1="1582" y1="916.5" x2="1586" y2="916.5" stroke="#a0a0a0" stroke-width="1"/>
<line x1="1582" y1="908.5" x2="1586" y2="908.5" stroke="#a0a0a0" stroke-width="1"/>
<line x1="1582" y1="900.5" x2="1586" y2="900.5" stroke="#a0a0a0" stroke-width="1"/>
<line x1="1582" y1="892.5" x2="1586" y2="892.5" stroke="#a0a0a0" stroke-width="1"/>
<line x1="1582" y1="884.5" x2="1586" y2="884.5" stroke="#a0a0a0" stroke-width="1"/>
<line x1="1582" y1="876.5" x2="1586" y2="876.5" stroke="#a0a0a0" stroke-width="1"/>
<line x1="1582" y1="868.5" x2="1586" y2="868.5" stroke="#a0a0a0" stroke-width="1"/>
<line x1="1582" y1="860.5" x2="1586" y2="860.5" stroke="#a0a0a0" stroke-width="1"/>
<line x1="1582" y1="852.5" x2="1586" y2="852.5" stroke="#a0a0a0" stroke-width="1"/>
<line x1="1582" y1="844.5" x2="1586" y2="844.5" stroke="#a0a0a0" stroke-width="1"/>
<line x1="1582" y1="836.5" x2="1586" y2="836.5" stroke="#a0a0a0" stroke-width="1"/>
<text x="1628.5" y="965.3" font-family="'Liberation Sans','NanumGothic','Noto Sans CJK KR',sans-serif" font-size="12" fill="#333" font-weight="normal" text-anchor="end" textLength="14" lengthAdjust="spacingAndGlyphs" >0K</text>
<text x="1628.5" y="952.8" font-family="'Liberation Sans','NanumGothic','Noto Sans CJK KR',sans-serif" font-size="12" fill="#333" font-weight="normal" text-anchor="end" textLength="39" lengthAdjust="spacingAndGlyphs" >1,000K</text>
<text x="1628.5" y="936.8" font-family="'Liberation Sans','NanumGothic','Noto Sans CJK KR',sans-serif" font-size="12" fill="#333" font-weight="normal" text-anchor="end" textLength="39" lengthAdjust="spacingAndGlyphs" >2,000K</text>
<text x="1628.5" y="920.8" font-family="'Liberation Sans','NanumGothic','Noto Sans CJK KR',sans-serif" font-size="12" fill="#333" font-weight="normal" text-anchor="end" textLength="39" lengthAdjust="spacingAndGlyphs" >3,000K</text>
<text x="1628.5" y="904.8" font-family="'Liberation Sans','NanumGothic','Noto Sans CJK KR',sans-serif" font-size="12" fill="#333" font-weight="normal" text-anchor="end" textLength="39" lengthAdjust="spacingAndGlyphs" >4,000K</text>
<text x="1628.5" y="888.8" font-family="'Liberation Sans','NanumGothic','Noto Sans CJK KR',sans-serif" font-size="12" fill="#333" font-weight="normal" text-anchor="end" textLength="39" lengthAdjust="spacingAndGlyphs" >5,000K</text>
<text x="1628.5" y="872.8" font-family="'Liberation Sans','NanumGothic','Noto Sans CJK KR',sans-serif" font-size="12" fill="#333" font-weight="normal" text-anchor="end" textLength="39" lengthAdjust="spacingAndGlyphs" >6,000K</text>
<text x="1628.5" y="856.8" font-family="'Liberation Sans','NanumGothic','Noto Sans CJK KR',sans-serif" font-size="12" fill="#333" font-weight="normal" text-anchor="end" textLength="39" lengthAdjust="spacingAndGlyphs" >7,000K</text>
<text x="1628.5" y="840.8" font-family="'Liberation Sans','NanumGothic','Noto Sans CJK KR',sans-serif" font-size="12" fill="#333" font-weight="normal" text-anchor="end" textLength="39" lengthAdjust="spacingAndGlyphs" >8,000K</text>
<polyline points="13.5,1039.5 65.4,1043.5 130.8,1049.3 196.1,1050.6 228.8,1049.3 261.5,1046.7 326.9,1037.9 392.3,1025.5 457.7,1019.9 530.0,1012.4 621.5,1000.0 693.5,996.1 778.4,995.1 824.2,991.2 843.8,992.1 889.6,999.3 955.0,1007.5 1020.4,1020.6 1050.0,1024.5 1115.4,1036.3 1180.8,1040.8 1246.1,1038.6 1311.5,1032.0 1376.9,1031.0 1442.3,1033.0 1507.7,1030.4 1567.5,1020.6" fill="none" stroke="#2266ff" stroke-width="1.2" stroke-linejoin="round" stroke-linecap="round" />
<polyline points="13.5,1043.5 39.2,1046.7 75.2,1052.0 130.8,1053.3 170.0,1052.6 196.1,1050.6 222.3,1048.4 261.5,1040.8 294.2,1033.6 326.9,1028.1 359.6,1020.6 392.3,1014.0 425.0,1014.7 457.7,1015.0 490.4,1010.8 523.0,1002.6 549.6,1001.6 585.6,995.1 615.0,992.8 660.8,992.8 686.9,995.1 713.1,993.8 732.7,995.1 771.9,994.4 791.5,990.2 811.1,985.6 830.8,988.5 856.9,997.7 883.0,1009.8 922.3,1013.1 955.0,1016.3 974.6,1023.8 997.5,1027.1 1030.2,1035.9 1050.0,1036.3 1069.6,1042.8 1105.6,1048.4 1141.5,1042.5 1174.2,1042.8 1213.5,1039.5 1239.6,1036.9 1278.8,1029.7 1305.0,1027.1 1344.2,1027.1 1363.8,1028.7 1383.4,1033.6 1409.6,1033.6 1439.0,1035.3 1475.0,1032.0 1497.9,1028.7 1524.0,1020.6 1550.2,1013.4 1567.5,1002.6" fill="none" stroke="#ff0000" stroke-width="2.8" stroke-linejoin="round" stroke-linecap="round" />
<polygon points="216.4,1050.9 219.9,1055 212.9,1055" fill="#e80000"/>
<polygon points="846.5,993.6 850.0,989.1 848.0,989.1 848.0,984.1 845.0,984.1 845.0,989.1 843.0,989.1" fill="#2a7de0"/>
<polygon points="1216.5,1041 1220.0,1045.5 1218.0,1045.5 1218.0,1051 1215.0,1051 1215.0,1045.5 1213.0,1045.5" fill="#e80000"/>
<polygon points="1383.5,1032.7 1387.0,1028.2 1385.0,1028.2 1385.0,1023.2 1382.0,1023.2 1382.0,1028.2 1380.0,1028.2" fill="#2a7de0"/>
<polygon points="1475.5,1033.1 1479.0,1037.6 1477.0,1037.6 1477.0,1043.1 1474.0,1043.1 1474.0,1037.6 1472.0,1037.6" fill="#e80000"/>
<line x1="1582" y1="1045.5" x2="1586" y2="1045.5" stroke="#a0a0a0" stroke-width="1"/>
<line x1="1582" y1="1031.5" x2="1586" y2="1031.5" stroke="#a0a0a0" stroke-width="1"/>
<line x1="1582" y1="1017.5" x2="1586" y2="1017.5" stroke="#a0a0a0" stroke-width="1"/>
<line x1="1582" y1="1003.5" x2="1586" y2="1003.5" stroke="#a0a0a0" stroke-width="1"/>
<line x1="1582" y1="989.5" x2="1586" y2="989.5" stroke="#a0a0a0" stroke-width="1"/>
<line x1="1582" y1="974.5" x2="1586" y2="974.5" stroke="#a0a0a0" stroke-width="1"/>
<text x="1640" y="1005" font-family="'Liberation Sans','NanumGothic','Noto Sans CJK KR',sans-serif" font-size="12" fill="#333" font-weight="normal" text-anchor="end" textLength="48" lengthAdjust="spacingAndGlyphs" >5,000.00</text>
<text x="1640" y="1033" font-family="'Liberation Sans','NanumGothic','Noto Sans CJK KR',sans-serif" font-size="12" fill="#333" font-weight="normal" text-anchor="end" textLength="48" lengthAdjust="spacingAndGlyphs" >2,500.00</text>
<polygon points="244.8,1101.4 248.4,1099.1 271.3,1090.3 290.9,1091.9 310.6,1088.3 326.9,1080.5 343.2,1077.9 359.6,1077.9 382.5,1077.9 400.5,1074.6 420.0,1088.7 441.3,1088.7 457.7,1093.2 474.0,1091.0 493.6,1090.3 510.0,1086.7 530.0,1088.7 549.6,1097.5 569.2,1094.9 587.2,1091.0 605.2,1099.1 628.1,1099.1 667.3,1099.1 686.9,1096.8 703.3,1095.9 716.3,1091.0 732.7,1099.1 752.3,1101.4 752.3,1101.4 244.8,1101.4" fill="#ff9ccc"/>
<polygon points="786.0,1101.4 788.3,1100.8 809.5,1086.1 820.7,1101.4 820.7,1101.4 786.0,1101.4" fill="#ff9ccc"/>
<polygon points="1317.7,1101.4 1327.9,1088.7 1345.9,1091.0 1357.3,1101.4 1357.3,1101.4 1317.7,1101.4" fill="#ff9ccc"/>
<polygon points="1540.8,1101.4 1550.2,1097.5 1567.5,1089.3 1567.5,1101.4 1540.8,1101.4" fill="#ff9ccc"/>
<line x1="5" y1="1101.5" x2="1580" y2="1101.5" stroke="#ff00ff" stroke-width="1.2"/>
<line x1="5" y1="1154.5" x2="1580" y2="1154.5" stroke="#88c0f0" stroke-width="1.2"/>
<text x="5.5" y="1099" font-family="'Liberation Sans','NanumGothic','Noto Sans CJK KR',sans-serif" font-size="12" fill="#f080c0" font-weight="normal" text-anchor="start" textLength="31" lengthAdjust="spacingAndGlyphs" >70.00</text>
<text x="5.5" y="1152" font-family="'Liberation Sans','NanumGothic','Noto Sans CJK KR',sans-serif" font-size="12" fill="#90c0f0" font-weight="normal" text-anchor="start" textLength="31" lengthAdjust="spacingAndGlyphs" >30.00</text>
<polyline points="13.5,1118.7 32.7,1123.0 65.4,1131.8 98.1,1136.1 130.8,1136.7 163.5,1134.1 196.1,1128.6 228.8,1122.0 261.5,1113.2 294.2,1105.7 326.9,1098.2 359.6,1091.0 402.1,1085.4 425.0,1086.7 457.7,1088.7 490.4,1088.7 530.0,1088.3 595.4,1092.6 660.8,1096.8 726.1,1096.8 785.0,1099.1 811.1,1095.9 840.6,1102.4 889.6,1113.8 938.6,1115.5 987.7,1122.0 1036.7,1128.6 1050.0,1129.5 1076.2,1134.4 1099.0,1134.4 1141.5,1129.5 1180.8,1130.8 1213.5,1128.6 1262.5,1119.7 1308.3,1114.5 1344.2,1106.3 1360.6,1106.3 1383.4,1109.9 1409.6,1111.2 1475.0,1109.9 1533.8,1107.3 1567.5,1103.4" fill="none" stroke="#2266ff" stroke-width="1.2" stroke-linejoin="round" stroke-linecap="round" />
<polyline points="13.5,1114.8 32.7,1134.4 52.3,1146.5 68.6,1153.7 85.0,1148.2 104.6,1141.6 124.2,1140.0 143.8,1131.8 163.5,1127.6 179.8,1126.3 197.8,1117.1 215.8,1116.1 235.4,1107.3 248.4,1099.1 271.3,1090.3 290.9,1091.9 310.6,1088.3 326.9,1080.5 343.2,1077.9 359.6,1077.9 382.5,1077.9 400.5,1074.6 420.0,1088.7 441.3,1088.7 457.7,1093.2 474.0,1091.0 493.6,1090.3 510.0,1086.7 530.0,1088.7 549.6,1097.5 569.2,1094.9 587.2,1091.0 605.2,1099.1 628.1,1099.1 667.3,1099.1 686.9,1096.8 703.3,1095.9 716.3,1091.0 732.7,1099.1 752.3,1101.4 771.9,1105.0 788.3,1100.8 809.5,1086.1 827.5,1110.6 847.1,1123.0 863.4,1122.0 883.0,1129.2 899.4,1123.0 919.0,1119.4 938.6,1115.5 955.0,1120.4 976.2,1135.1 994.2,1126.9 1013.8,1133.5 1033.4,1139.0 1050.0,1139.3 1068.0,1153.7 1089.2,1138.4 1105.6,1130.8 1123.6,1122.0 1143.2,1118.1 1161.1,1126.9 1179.1,1135.1 1197.1,1127.6 1216.7,1123.6 1234.7,1112.9 1254.3,1111.2 1272.3,1104.0 1291.9,1106.3 1309.9,1111.2 1327.9,1088.7 1345.9,1091.0 1363.8,1107.3 1383.4,1126.9 1401.4,1115.5 1419.4,1108.3 1439.0,1109.6 1455.4,1108.9 1475.0,1108.9 1494.6,1110.6 1514.2,1105.0 1532.2,1105.0 1550.2,1097.5 1567.5,1089.3" fill="none" stroke="#ff0000" stroke-width="3.2" stroke-linejoin="round" stroke-linecap="round" />
<line x1="1582" y1="1146.5" x2="1586" y2="1146.5" stroke="#a0a0a0" stroke-width="1"/>
<line x1="1582" y1="1138.5" x2="1586" y2="1138.5" stroke="#a0a0a0" stroke-width="1"/>
<line x1="1582" y1="1130.5" x2="1586" y2="1130.5" stroke="#a0a0a0" stroke-width="1"/>
<line x1="1582" y1="1122.5" x2="1586" y2="1122.5" stroke="#a0a0a0" stroke-width="1"/>
<line x1="1582" y1="1113.5" x2="1586" y2="1113.5" stroke="#a0a0a0" stroke-width="1"/>
<line x1="1582" y1="1105.5" x2="1586" y2="1105.5" stroke="#a0a0a0" stroke-width="1"/>
<line x1="1582" y1="1097.5" x2="1586" y2="1097.5" stroke="#a0a0a0" stroke-width="1"/>
<line x1="1582" y1="1088.5" x2="1586" y2="1088.5" stroke="#a0a0a0" stroke-width="1"/>
<line x1="1582" y1="1080.5" x2="1586" y2="1080.5" stroke="#a0a0a0" stroke-width="1"/>
<line x1="1582" y1="1072.5" x2="1586" y2="1072.5" stroke="#a0a0a0" stroke-width="1"/>
<line x1="1582" y1="1064.5" x2="1586" y2="1064.5" stroke="#a0a0a0" stroke-width="1"/>
<text x="1628" y="1098.5" font-family="'Liberation Sans','NanumGothic','Noto Sans CJK KR',sans-serif" font-size="12" fill="#333" font-weight="normal" text-anchor="end" textLength="30" lengthAdjust="spacingAndGlyphs" >75.00</text>
<text x="1628" y="1131.5" font-family="'Liberation Sans','NanumGothic','Noto Sans CJK KR',sans-serif" font-size="12" fill="#333" font-weight="normal" text-anchor="end" textLength="30" lengthAdjust="spacingAndGlyphs" >50.00</text>
<rect x="4" y="1157" width="1644" height="16" fill="#ebebeb" />
<line x1="1581.5" y1="1157" x2="1581.5" y2="1174" stroke="#c4c4c4" stroke-width="1"/>
<text x="7" y="1169" font-family="'Liberation Sans','NanumGothic','Noto Sans CJK KR',sans-serif" font-size="13" fill="#222" font-weight="bold" text-anchor="start" textLength="48" lengthAdjust="spacingAndGlyphs" >2025/08</text>
<line x1="60.5" y1="1157" x2="60.5" y2="1162" stroke="#a0a0a0" stroke-width="1"/>
<text x="62.0" y="1169" font-family="'Liberation Sans','NanumGothic','Noto Sans CJK KR',sans-serif" font-size="12" fill="#333" font-weight="normal" text-anchor="start" textLength="11.5" lengthAdjust="spacingAndGlyphs" >09</text>
<line x1="467.5" y1="1157" x2="467.5" y2="1162" stroke="#a0a0a0" stroke-width="1"/>
<text x="469.0" y="1169" font-family="'Liberation Sans','NanumGothic','Noto Sans CJK KR',sans-serif" font-size="12" fill="#333" font-weight="normal" text-anchor="start" textLength="11.5" lengthAdjust="spacingAndGlyphs" >10</text>
<line x1="801.5" y1="1157" x2="801.5" y2="1162" stroke="#a0a0a0" stroke-width="1"/>
<text x="803.0" y="1169" font-family="'Liberation Sans','NanumGothic','Noto Sans CJK KR',sans-serif" font-size="12" fill="#333" font-weight="normal" text-anchor="start" textLength="11.5" lengthAdjust="spacingAndGlyphs" >11</text>
<line x1="1171.5" y1="1157" x2="1171.5" y2="1162" stroke="#a0a0a0" stroke-width="1"/>
<text x="1173.0" y="1169" font-family="'Liberation Sans','NanumGothic','Noto Sans CJK KR',sans-serif" font-size="12" fill="#333" font-weight="normal" text-anchor="start" textLength="11.5" lengthAdjust="spacingAndGlyphs" >12</text>
<line x1="1560.5" y1="1157" x2="1560.5" y2="1162" stroke="#a0a0a0" stroke-width="1"/>
<text x="1606.5" y="1169.5" font-family="'Liberation Sans','NanumGothic','Noto Sans CJK KR',sans-serif" font-size="12.5" fill="#333" font-weight="normal" text-anchor="middle" textLength="29.5" lengthAdjust="spacingAndGlyphs" >01/02</text>
<rect x="0" y="1173" width="1652" height="10" fill="#ececec" />
<line x1="4" y1="1173.5" x2="1648" y2="1173.5" stroke="#c8c8c8" stroke-width="1"/>
<rect x="4" y="1174" width="1411" height="9" fill="#f3f3f3" />
<rect x="1343" y="1174.5" width="71" height="9" fill="#f9f9f9" stroke="#c8c8c8" stroke-width="1" />
<rect x="4" y="1174" width="17" height="9" fill="#f0f0f0" />
<line x1="20.5" y1="1174" x2="20.5" y2="1183" stroke="#909090" stroke-width="1"/>
<polygon points="9,1179 13,1176.5 13,1181.5" fill="#000"/>
<line x1="1415.5" y1="1174" x2="1415.5" y2="1183" stroke="#707070" stroke-width="1"/>
<rect x="1416" y="1174" width="16" height="9" fill="#f0f0f0" />
<polygon points="1423.5,1177 1426.5,1180 1423.5,1183" fill="#000"/>
<line x1="1432.5" y1="1174" x2="1432.5" y2="1183" stroke="#909090" stroke-width="1"/>
<rect x="1433" y="1174" width="70" height="9" fill="#ffffff" />
<line x1="1438" y1="1177.5" x2="1498" y2="1177.5" stroke="#404040" stroke-width="1"/>
<path d="M1490.5,1176.5 h5 v3 l-2.5,3 l-2.5,-3 z" fill="#ffffff" stroke="#404040" stroke-width="1"/>
<circle cx="1511.5" cy="1182" r="5" fill="none" stroke="#303030" stroke-width="1.2"/><line x1="1508.5" y1="1182" x2="1514.5" y2="1182" stroke="#303030" stroke-width="1.2"/>
<circle cx="1527.5" cy="1182" r="5" fill="none" stroke="#303030" stroke-width="1.2"/><line x1="1524.5" y1="1182" x2="1530.5" y2="1182" stroke="#303030" stroke-width="1.2"/><line x1="1527.5" y1="1179" x2="1527.5" y2="1185" stroke="#303030" stroke-width="1.2"/>
<path d="M1539,1183 v-4 q1.5,-2 3,0 v-1 q1.5,-2 3,0 v1 q1.5,-2 3,0 v4" fill="none" stroke="#303030" stroke-width="1.1"/>
<path d="M1559.5,1176.5 l-3,7 M1559.5,1176.5 l3,7" fill="none" stroke="#303030" stroke-width="1"/>
<circle cx="1575.5" cy="1181" r="5" fill="#ffb020"/><circle cx="1575.5" cy="1181" r="2.3" fill="#ffe070"/>
<path d="M1585,1178 q5,-3 11,0 M1590.5,1177 v7" fill="none" stroke="#303030" stroke-width="1.6"/>
<rect x="1601.5" y="1176.5" width="11" height="8" fill="none" stroke="#303030" stroke-width="1.2"/><line x1="1601.5" y1="1179.5" x2="1612.5" y2="1179.5" stroke="#303030" stroke-width="1.2"/>
<line x1="1618" y1="1181.5" x2="1629" y2="1181.5" stroke="#303030" stroke-width="1.3"/><line x1="1623.5" y1="1177" x2="1623.5" y2="1184" stroke="#303030" stroke-width="1.3"/>
<path d="M1633.5,1178 v-1.5 h11 v1.5 M1636.5,1176.5 v7 M1641.5,1176.5 v7" fill="none" stroke="#303030" stroke-width="1.2"/></svg>
</body></html>
